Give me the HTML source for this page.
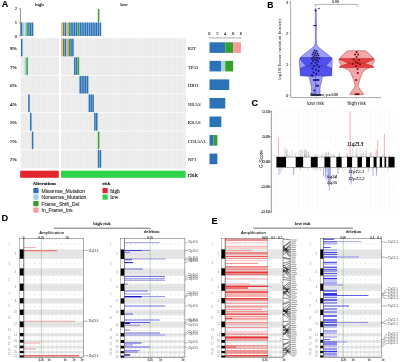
<!DOCTYPE html>
<html><head><meta charset="utf-8"><style>
html,body{margin:0;padding:0;background:#fff;width:400px;height:362px;overflow:hidden}
svg{display:block;filter:blur(0.35px)}
</style></head><body>
<svg width="400" height="362" viewBox="0 0 400 362">
<rect width="400" height="362" fill="#fff"/>
<text x="1.7" y="7.4" font-family="Liberation Sans, sans-serif" font-size="9" fill="#000" text-anchor="start" font-weight="bold" font-style="normal" stroke="#000" stroke-width="0.12">A</text>
<line x1="20.4" y1="8.7" x2="20.4" y2="36" stroke="#444" stroke-width="0.6"/>
<line x1="19" y1="8.7" x2="20.4" y2="8.7" stroke="#444" stroke-width="0.5"/>
<text x="17.2" y="10.2" font-family="Liberation Sans, sans-serif" font-size="4.3" fill="#333" text-anchor="end" font-weight="normal" font-style="normal" stroke="#333" stroke-width="0.12">2</text>
<line x1="19" y1="22.5" x2="20.4" y2="22.5" stroke="#444" stroke-width="0.5"/>
<text x="17.2" y="24" font-family="Liberation Sans, sans-serif" font-size="4.3" fill="#333" text-anchor="end" font-weight="normal" font-style="normal" stroke="#333" stroke-width="0.12">1</text>
<line x1="19" y1="36" x2="20.4" y2="36" stroke="#444" stroke-width="0.5"/>
<text x="17.2" y="37.5" font-family="Liberation Sans, sans-serif" font-size="4.3" fill="#333" text-anchor="end" font-weight="normal" font-style="normal" stroke="#333" stroke-width="0.12">0</text>
<text x="39.4" y="5.6" font-family="Liberation Serif, sans-serif" font-size="5" fill="#222" text-anchor="middle" font-weight="normal" font-style="normal" stroke="#222" stroke-width="0.12">high</text>
<text x="123.9" y="5.7" font-family="Liberation Serif, sans-serif" font-size="5" fill="#222" text-anchor="middle" font-weight="normal" font-style="normal" stroke="#222" stroke-width="0.12">low</text>
<rect x="20.8" y="38.3" width="38" height="129.9" fill="#e9e9e9"/>
<rect x="61" y="38.3" width="124.7" height="129.9" fill="#e9e9e9"/>
<rect x="22.39" y="38.3" width="0.44" height="129.9" fill="#f6f6f6"/>
<rect x="24.2" y="38.3" width="0.44" height="129.9" fill="#f6f6f6"/>
<rect x="26.01" y="38.3" width="0.44" height="129.9" fill="#f6f6f6"/>
<rect x="27.82" y="38.3" width="0.44" height="129.9" fill="#f6f6f6"/>
<rect x="29.63" y="38.3" width="0.44" height="129.9" fill="#f6f6f6"/>
<rect x="31.44" y="38.3" width="0.44" height="129.9" fill="#f6f6f6"/>
<rect x="33.25" y="38.3" width="0.44" height="129.9" fill="#f6f6f6"/>
<rect x="35.06" y="38.3" width="0.44" height="129.9" fill="#f6f6f6"/>
<rect x="36.87" y="38.3" width="0.44" height="129.9" fill="#f6f6f6"/>
<rect x="38.68" y="38.3" width="0.44" height="129.9" fill="#f6f6f6"/>
<rect x="40.48" y="38.3" width="0.44" height="129.9" fill="#f6f6f6"/>
<rect x="42.29" y="38.3" width="0.44" height="129.9" fill="#f6f6f6"/>
<rect x="44.1" y="38.3" width="0.44" height="129.9" fill="#f6f6f6"/>
<rect x="45.91" y="38.3" width="0.44" height="129.9" fill="#f6f6f6"/>
<rect x="47.72" y="38.3" width="0.44" height="129.9" fill="#f6f6f6"/>
<rect x="49.53" y="38.3" width="0.44" height="129.9" fill="#f6f6f6"/>
<rect x="51.34" y="38.3" width="0.44" height="129.9" fill="#f6f6f6"/>
<rect x="53.15" y="38.3" width="0.44" height="129.9" fill="#f6f6f6"/>
<rect x="54.96" y="38.3" width="0.44" height="129.9" fill="#f6f6f6"/>
<rect x="56.77" y="38.3" width="0.44" height="129.9" fill="#f6f6f6"/>
<rect x="62.61" y="38.3" width="0.44" height="129.9" fill="#f6f6f6"/>
<rect x="64.45" y="38.3" width="0.44" height="129.9" fill="#f6f6f6"/>
<rect x="66.28" y="38.3" width="0.44" height="129.9" fill="#f6f6f6"/>
<rect x="68.12" y="38.3" width="0.44" height="129.9" fill="#f6f6f6"/>
<rect x="69.95" y="38.3" width="0.44" height="129.9" fill="#f6f6f6"/>
<rect x="71.78" y="38.3" width="0.44" height="129.9" fill="#f6f6f6"/>
<rect x="73.62" y="38.3" width="0.44" height="129.9" fill="#f6f6f6"/>
<rect x="75.45" y="38.3" width="0.44" height="129.9" fill="#f6f6f6"/>
<rect x="77.28" y="38.3" width="0.44" height="129.9" fill="#f6f6f6"/>
<rect x="79.12" y="38.3" width="0.44" height="129.9" fill="#f6f6f6"/>
<rect x="80.95" y="38.3" width="0.44" height="129.9" fill="#f6f6f6"/>
<rect x="82.79" y="38.3" width="0.44" height="129.9" fill="#f6f6f6"/>
<rect x="84.62" y="38.3" width="0.44" height="129.9" fill="#f6f6f6"/>
<rect x="86.45" y="38.3" width="0.44" height="129.9" fill="#f6f6f6"/>
<rect x="88.29" y="38.3" width="0.44" height="129.9" fill="#f6f6f6"/>
<rect x="90.12" y="38.3" width="0.44" height="129.9" fill="#f6f6f6"/>
<rect x="91.95" y="38.3" width="0.44" height="129.9" fill="#f6f6f6"/>
<rect x="93.79" y="38.3" width="0.44" height="129.9" fill="#f6f6f6"/>
<rect x="95.62" y="38.3" width="0.44" height="129.9" fill="#f6f6f6"/>
<rect x="97.46" y="38.3" width="0.44" height="129.9" fill="#f6f6f6"/>
<rect x="99.29" y="38.3" width="0.44" height="129.9" fill="#f6f6f6"/>
<rect x="101.12" y="38.3" width="0.44" height="129.9" fill="#f6f6f6"/>
<rect x="102.96" y="38.3" width="0.44" height="129.9" fill="#f6f6f6"/>
<rect x="104.79" y="38.3" width="0.44" height="129.9" fill="#f6f6f6"/>
<rect x="106.63" y="38.3" width="0.44" height="129.9" fill="#f6f6f6"/>
<rect x="108.46" y="38.3" width="0.44" height="129.9" fill="#f6f6f6"/>
<rect x="110.29" y="38.3" width="0.44" height="129.9" fill="#f6f6f6"/>
<rect x="112.13" y="38.3" width="0.44" height="129.9" fill="#f6f6f6"/>
<rect x="113.96" y="38.3" width="0.44" height="129.9" fill="#f6f6f6"/>
<rect x="115.79" y="38.3" width="0.44" height="129.9" fill="#f6f6f6"/>
<rect x="117.63" y="38.3" width="0.44" height="129.9" fill="#f6f6f6"/>
<rect x="119.46" y="38.3" width="0.44" height="129.9" fill="#f6f6f6"/>
<rect x="121.3" y="38.3" width="0.44" height="129.9" fill="#f6f6f6"/>
<rect x="123.13" y="38.3" width="0.44" height="129.9" fill="#f6f6f6"/>
<rect x="124.96" y="38.3" width="0.44" height="129.9" fill="#f6f6f6"/>
<rect x="126.8" y="38.3" width="0.44" height="129.9" fill="#f6f6f6"/>
<rect x="128.63" y="38.3" width="0.44" height="129.9" fill="#f6f6f6"/>
<rect x="130.47" y="38.3" width="0.44" height="129.9" fill="#f6f6f6"/>
<rect x="132.3" y="38.3" width="0.44" height="129.9" fill="#f6f6f6"/>
<rect x="134.13" y="38.3" width="0.44" height="129.9" fill="#f6f6f6"/>
<rect x="135.97" y="38.3" width="0.44" height="129.9" fill="#f6f6f6"/>
<rect x="137.8" y="38.3" width="0.44" height="129.9" fill="#f6f6f6"/>
<rect x="139.63" y="38.3" width="0.44" height="129.9" fill="#f6f6f6"/>
<rect x="141.47" y="38.3" width="0.44" height="129.9" fill="#f6f6f6"/>
<rect x="143.3" y="38.3" width="0.44" height="129.9" fill="#f6f6f6"/>
<rect x="145.14" y="38.3" width="0.44" height="129.9" fill="#f6f6f6"/>
<rect x="146.97" y="38.3" width="0.44" height="129.9" fill="#f6f6f6"/>
<rect x="148.8" y="38.3" width="0.44" height="129.9" fill="#f6f6f6"/>
<rect x="150.64" y="38.3" width="0.44" height="129.9" fill="#f6f6f6"/>
<rect x="152.47" y="38.3" width="0.44" height="129.9" fill="#f6f6f6"/>
<rect x="154.3" y="38.3" width="0.44" height="129.9" fill="#f6f6f6"/>
<rect x="156.14" y="38.3" width="0.44" height="129.9" fill="#f6f6f6"/>
<rect x="157.97" y="38.3" width="0.44" height="129.9" fill="#f6f6f6"/>
<rect x="159.81" y="38.3" width="0.44" height="129.9" fill="#f6f6f6"/>
<rect x="161.64" y="38.3" width="0.44" height="129.9" fill="#f6f6f6"/>
<rect x="163.47" y="38.3" width="0.44" height="129.9" fill="#f6f6f6"/>
<rect x="165.31" y="38.3" width="0.44" height="129.9" fill="#f6f6f6"/>
<rect x="167.14" y="38.3" width="0.44" height="129.9" fill="#f6f6f6"/>
<rect x="168.98" y="38.3" width="0.44" height="129.9" fill="#f6f6f6"/>
<rect x="170.81" y="38.3" width="0.44" height="129.9" fill="#f6f6f6"/>
<rect x="172.64" y="38.3" width="0.44" height="129.9" fill="#f6f6f6"/>
<rect x="174.48" y="38.3" width="0.44" height="129.9" fill="#f6f6f6"/>
<rect x="176.31" y="38.3" width="0.44" height="129.9" fill="#f6f6f6"/>
<rect x="178.14" y="38.3" width="0.44" height="129.9" fill="#f6f6f6"/>
<rect x="179.98" y="38.3" width="0.44" height="129.9" fill="#f6f6f6"/>
<rect x="181.81" y="38.3" width="0.44" height="129.9" fill="#f6f6f6"/>
<rect x="183.65" y="38.3" width="0.44" height="129.9" fill="#f6f6f6"/>
<rect x="20.8" y="56.36" width="164.9" height="1" fill="#fafafa"/>
<rect x="20.8" y="74.91" width="164.9" height="1" fill="#fafafa"/>
<rect x="20.8" y="93.47" width="164.9" height="1" fill="#fafafa"/>
<rect x="20.8" y="112.03" width="164.9" height="1" fill="#fafafa"/>
<rect x="20.8" y="130.59" width="164.9" height="1" fill="#fafafa"/>
<rect x="20.8" y="149.14" width="164.9" height="1" fill="#fafafa"/>
<rect x="20.95" y="38.8" width="1.51" height="17.56" fill="#2b72b8"/>
<rect x="24.57" y="57.36" width="1.51" height="17.56" fill="#a6cee3"/>
<rect x="26.38" y="57.36" width="1.51" height="17.56" fill="#33a02c"/>
<rect x="28.19" y="94.47" width="1.51" height="17.56" fill="#2b72b8"/>
<rect x="30" y="113.03" width="1.51" height="17.56" fill="#2b72b8"/>
<rect x="31.81" y="131.59" width="1.51" height="17.56" fill="#2b72b8"/>
<rect x="61.15" y="38.8" width="1.53" height="17.56" fill="#fb9a99"/>
<rect x="62.98" y="38.8" width="1.53" height="17.56" fill="#33a02c"/>
<rect x="64.82" y="38.8" width="1.53" height="17.56" fill="#2b72b8"/>
<rect x="66.65" y="38.8" width="1.53" height="17.56" fill="#fb9a99"/>
<rect x="68.49" y="38.8" width="1.53" height="17.56" fill="#33a02c"/>
<rect x="70.32" y="38.8" width="1.53" height="17.56" fill="#2b72b8"/>
<rect x="72.15" y="38.8" width="1.53" height="17.56" fill="#2b72b8"/>
<rect x="73.99" y="57.36" width="1.53" height="17.56" fill="#2b72b8"/>
<rect x="75.82" y="57.36" width="1.53" height="17.56" fill="#2b72b8"/>
<rect x="77.65" y="57.36" width="1.53" height="17.56" fill="#33a02c"/>
<rect x="79.49" y="75.91" width="1.53" height="17.56" fill="#2b72b8"/>
<rect x="81.32" y="75.91" width="1.53" height="17.56" fill="#2b72b8"/>
<rect x="83.16" y="75.91" width="1.53" height="17.56" fill="#2b72b8"/>
<rect x="84.99" y="75.91" width="1.53" height="17.56" fill="#2b72b8"/>
<rect x="86.82" y="75.91" width="1.53" height="17.56" fill="#2b72b8"/>
<rect x="88.66" y="94.47" width="1.53" height="17.56" fill="#2b72b8"/>
<rect x="90.49" y="94.47" width="1.53" height="17.56" fill="#2b72b8"/>
<rect x="92.33" y="94.47" width="1.53" height="17.56" fill="#2b72b8"/>
<rect x="94.16" y="113.03" width="1.53" height="17.56" fill="#2b72b8"/>
<rect x="95.99" y="113.03" width="1.53" height="17.56" fill="#2b72b8"/>
<rect x="97.83" y="150.14" width="1.53" height="17.56" fill="#2b72b8"/>
<rect x="97.83" y="131.59" width="1.53" height="17.56" fill="#33a02c"/>
<rect x="99.66" y="150.14" width="1.53" height="17.56" fill="#2b72b8"/>
<rect x="20.95" y="22.5" width="1.51" height="13.5" fill="#2b72b8"/>
<rect x="24.57" y="22.5" width="1.51" height="13.5" fill="#a6cee3"/>
<rect x="26.38" y="22.5" width="1.51" height="13.5" fill="#33a02c"/>
<rect x="28.19" y="22.5" width="1.51" height="13.5" fill="#2b72b8"/>
<rect x="30" y="22.5" width="1.51" height="13.5" fill="#2b72b8"/>
<rect x="31.81" y="22.5" width="1.51" height="13.5" fill="#2b72b8"/>
<rect x="61.15" y="22.5" width="1.53" height="13.5" fill="#fb9a99"/>
<rect x="62.98" y="22.5" width="1.53" height="13.5" fill="#33a02c"/>
<rect x="64.82" y="22.5" width="1.53" height="13.5" fill="#2b72b8"/>
<rect x="66.65" y="22.5" width="1.53" height="13.5" fill="#fb9a99"/>
<rect x="68.49" y="22.5" width="1.53" height="13.5" fill="#33a02c"/>
<rect x="70.32" y="22.5" width="1.53" height="13.5" fill="#2b72b8"/>
<rect x="72.15" y="22.5" width="1.53" height="13.5" fill="#2b72b8"/>
<rect x="73.99" y="22.5" width="1.53" height="13.5" fill="#2b72b8"/>
<rect x="75.82" y="22.5" width="1.53" height="13.5" fill="#2b72b8"/>
<rect x="77.65" y="22.5" width="1.53" height="13.5" fill="#33a02c"/>
<rect x="79.49" y="22.5" width="1.53" height="13.5" fill="#2b72b8"/>
<rect x="81.32" y="22.5" width="1.53" height="13.5" fill="#2b72b8"/>
<rect x="83.16" y="22.5" width="1.53" height="13.5" fill="#2b72b8"/>
<rect x="84.99" y="22.5" width="1.53" height="13.5" fill="#2b72b8"/>
<rect x="86.82" y="22.5" width="1.53" height="13.5" fill="#2b72b8"/>
<rect x="88.66" y="22.5" width="1.53" height="13.5" fill="#2b72b8"/>
<rect x="90.49" y="22.5" width="1.53" height="13.5" fill="#2b72b8"/>
<rect x="92.33" y="22.5" width="1.53" height="13.5" fill="#2b72b8"/>
<rect x="94.16" y="22.5" width="1.53" height="13.5" fill="#2b72b8"/>
<rect x="95.99" y="22.5" width="1.53" height="13.5" fill="#2b72b8"/>
<rect x="97.83" y="22.5" width="1.53" height="13.5" fill="#2b72b8"/>
<rect x="97.83" y="9" width="1.53" height="13.5" fill="#33a02c"/>
<rect x="99.66" y="22.5" width="1.53" height="13.5" fill="#2b72b8"/>
<rect x="22.76" y="22.5" width="1.51" height="13.5" fill="#a6cee3"/>
<text x="16.7" y="49.98" font-family="Liberation Serif, sans-serif" font-size="5" fill="#111" text-anchor="end" font-weight="normal" font-style="normal" stroke="#111" stroke-width="0.12">9%</text>
<text x="187.8" y="49.98" font-family="Liberation Serif, sans-serif" font-size="4.8" fill="#111" text-anchor="start" font-weight="normal" font-style="normal" stroke="#111" stroke-width="0.06">KIT</text>
<text x="16.7" y="68.54" font-family="Liberation Serif, sans-serif" font-size="5" fill="#111" text-anchor="end" font-weight="normal" font-style="normal" stroke="#111" stroke-width="0.12">7%</text>
<text x="187.8" y="68.54" font-family="Liberation Serif, sans-serif" font-size="4.8" fill="#111" text-anchor="start" font-weight="normal" font-style="normal" stroke="#111" stroke-width="0.06">TP53</text>
<text x="16.7" y="87.09" font-family="Liberation Serif, sans-serif" font-size="5" fill="#111" text-anchor="end" font-weight="normal" font-style="normal" stroke="#111" stroke-width="0.12">6%</text>
<text x="187.8" y="87.09" font-family="Liberation Serif, sans-serif" font-size="4.8" fill="#111" text-anchor="start" font-weight="normal" font-style="normal" stroke="#111" stroke-width="0.06">IDH1</text>
<text x="16.7" y="105.65" font-family="Liberation Serif, sans-serif" font-size="5" fill="#111" text-anchor="end" font-weight="normal" font-style="normal" stroke="#111" stroke-width="0.12">4%</text>
<text x="187.8" y="105.65" font-family="Liberation Serif, sans-serif" font-size="4.8" fill="#111" text-anchor="start" font-weight="normal" font-style="normal" stroke="#111" stroke-width="0.06">NRAS</text>
<text x="16.7" y="124.21" font-family="Liberation Serif, sans-serif" font-size="5" fill="#111" text-anchor="end" font-weight="normal" font-style="normal" stroke="#111" stroke-width="0.12">3%</text>
<text x="187.8" y="124.21" font-family="Liberation Serif, sans-serif" font-size="4.8" fill="#111" text-anchor="start" font-weight="normal" font-style="normal" stroke="#111" stroke-width="0.06">KRAS</text>
<text x="16.7" y="142.76" font-family="Liberation Serif, sans-serif" font-size="5" fill="#111" text-anchor="end" font-weight="normal" font-style="normal" stroke="#111" stroke-width="0.12">2%</text>
<text x="187.8" y="142.76" font-family="Liberation Serif, sans-serif" font-size="4.8" fill="#111" text-anchor="start" font-weight="normal" font-style="normal" stroke="#111" stroke-width="0.06">COL5A1</text>
<text x="16.7" y="161.32" font-family="Liberation Serif, sans-serif" font-size="5" fill="#111" text-anchor="end" font-weight="normal" font-style="normal" stroke="#111" stroke-width="0.12">2%</text>
<text x="187.8" y="161.32" font-family="Liberation Serif, sans-serif" font-size="4.8" fill="#111" text-anchor="start" font-weight="normal" font-style="normal" stroke="#111" stroke-width="0.06">NF1</text>
<line x1="209.5" y1="38" x2="241.02" y2="38" stroke="#444" stroke-width="0.4"/>
<line x1="209.5" y1="38" x2="209.5" y2="36.8" stroke="#444" stroke-width="0.3"/>
<line x1="213.44" y1="38" x2="213.44" y2="37.4" stroke="#444" stroke-width="0.3"/>
<line x1="217.38" y1="38" x2="217.38" y2="36.8" stroke="#444" stroke-width="0.3"/>
<line x1="221.32" y1="38" x2="221.32" y2="37.4" stroke="#444" stroke-width="0.3"/>
<line x1="225.26" y1="38" x2="225.26" y2="36.8" stroke="#444" stroke-width="0.3"/>
<line x1="229.2" y1="38" x2="229.2" y2="37.4" stroke="#444" stroke-width="0.3"/>
<line x1="233.14" y1="38" x2="233.14" y2="36.8" stroke="#444" stroke-width="0.3"/>
<line x1="237.08" y1="38" x2="237.08" y2="37.4" stroke="#444" stroke-width="0.3"/>
<line x1="241.02" y1="38" x2="241.02" y2="36.8" stroke="#444" stroke-width="0.3"/>
<text x="209.5" y="34.6" font-family="Liberation Serif, sans-serif" font-size="4.6" fill="#333" text-anchor="middle" font-weight="normal" font-style="normal" stroke="#333" stroke-width="0.12">0</text>
<text x="217.38" y="34.6" font-family="Liberation Serif, sans-serif" font-size="4.6" fill="#333" text-anchor="middle" font-weight="normal" font-style="normal" stroke="#333" stroke-width="0.12">2</text>
<text x="225.26" y="34.6" font-family="Liberation Serif, sans-serif" font-size="4.6" fill="#333" text-anchor="middle" font-weight="normal" font-style="normal" stroke="#333" stroke-width="0.12">4</text>
<text x="233.14" y="34.6" font-family="Liberation Serif, sans-serif" font-size="4.6" fill="#333" text-anchor="middle" font-weight="normal" font-style="normal" stroke="#333" stroke-width="0.12">6</text>
<text x="241.02" y="34.6" font-family="Liberation Serif, sans-serif" font-size="4.6" fill="#333" text-anchor="middle" font-weight="normal" font-style="normal" stroke="#333" stroke-width="0.12">8</text>
<rect x="209.5" y="42.28" width="15.76" height="10.6" fill="#2b72b8"/>
<rect x="225.26" y="42.28" width="7.88" height="10.6" fill="#33a02c"/>
<rect x="233.14" y="42.28" width="7.88" height="10.6" fill="#fb9a99"/>
<rect x="209.5" y="60.84" width="11.82" height="10.6" fill="#2b72b8"/>
<rect x="221.32" y="60.84" width="3.94" height="10.6" fill="#a6cee3"/>
<rect x="225.26" y="60.84" width="7.88" height="10.6" fill="#33a02c"/>
<rect x="209.5" y="79.39" width="19.7" height="10.6" fill="#2b72b8"/>
<rect x="209.5" y="97.95" width="15.76" height="10.6" fill="#2b72b8"/>
<rect x="209.5" y="116.51" width="11.82" height="10.6" fill="#2b72b8"/>
<rect x="209.5" y="135.06" width="3.94" height="10.6" fill="#2b72b8"/>
<rect x="213.44" y="135.06" width="3.94" height="10.6" fill="#33a02c"/>
<rect x="209.5" y="153.62" width="7.88" height="10.6" fill="#2b72b8"/>
<rect x="20.2" y="170.7" width="38.6" height="7.1" fill="#e3262d"/>
<rect x="61" y="170.7" width="124.7" height="7.1" fill="#2fd44a"/>
<text x="187.6" y="176.9" font-family="Liberation Serif, sans-serif" font-size="7" fill="#111" text-anchor="start" font-weight="normal" font-style="normal" stroke="#111" stroke-width="0.12">risk</text>
<text x="32.8" y="185" font-family="Liberation Serif, sans-serif" font-size="4.9" fill="#111" text-anchor="start" font-weight="bold" font-style="normal" stroke="#111" stroke-width="0.12">Alterations</text>
<rect x="33.3" y="188" width="5.2" height="5.2" fill="#2b72b8"/>
<text x="41.5" y="192.9" font-family="Liberation Sans, sans-serif" font-size="5.05" fill="#333" text-anchor="start" font-weight="normal" font-style="normal" stroke="#333" stroke-width="0.12">Missense_Mutation</text>
<rect x="33.3" y="194.5" width="5.2" height="5.2" fill="#a6cee3"/>
<text x="41.5" y="199.4" font-family="Liberation Sans, sans-serif" font-size="5.05" fill="#333" text-anchor="start" font-weight="normal" font-style="normal" stroke="#333" stroke-width="0.12">Nonsense_Mutation</text>
<rect x="33.3" y="201" width="5.2" height="5.2" fill="#33a02c"/>
<text x="41.5" y="205.9" font-family="Liberation Sans, sans-serif" font-size="5.05" fill="#333" text-anchor="start" font-weight="normal" font-style="normal" stroke="#333" stroke-width="0.12">Frame_Shift_Del</text>
<rect x="33.3" y="207.5" width="5.2" height="5.2" fill="#fb9a99"/>
<text x="41.5" y="212.4" font-family="Liberation Sans, sans-serif" font-size="5.05" fill="#333" text-anchor="start" font-weight="normal" font-style="normal" stroke="#333" stroke-width="0.12">In_Frame_Ins</text>
<text x="102.3" y="185" font-family="Liberation Serif, sans-serif" font-size="4.9" fill="#111" text-anchor="start" font-weight="bold" font-style="normal" stroke="#111" stroke-width="0.12">risk</text>
<rect x="102.5" y="188" width="5.2" height="5.2" fill="#e3262d"/>
<text x="110.2" y="192.6" font-family="Liberation Serif, sans-serif" font-size="5.4" fill="#222" text-anchor="start" font-weight="normal" font-style="normal" stroke="#222" stroke-width="0.12">high</text>
<rect x="102.5" y="194.5" width="5.2" height="5.2" fill="#2fd44a"/>
<text x="110.2" y="199.1" font-family="Liberation Serif, sans-serif" font-size="5.4" fill="#222" text-anchor="start" font-weight="normal" font-style="normal" stroke="#222" stroke-width="0.12">low</text>
<text x="267.2" y="7.7" font-family="Liberation Sans, sans-serif" font-size="8.6" fill="#000" text-anchor="start" font-weight="bold" font-style="normal" stroke="#000" stroke-width="0.12">B</text>
<line x1="290.6" y1="1.5" x2="290.6" y2="97.6" stroke="#555" stroke-width="0.5"/>
<line x1="290.6" y1="97.6" x2="381" y2="97.6" stroke="#555" stroke-width="0.5"/>
<line x1="289.3" y1="95.2" x2="290.6" y2="95.2" stroke="#555" stroke-width="0.45"/>
<text x="288.3" y="96.6" font-family="Liberation Sans, sans-serif" font-size="4" fill="#444" text-anchor="end" font-weight="normal" font-style="normal" stroke="#444" stroke-width="0.12">0</text>
<line x1="289.3" y1="64.2" x2="290.6" y2="64.2" stroke="#555" stroke-width="0.45"/>
<text x="288.3" y="65.6" font-family="Liberation Sans, sans-serif" font-size="4" fill="#444" text-anchor="end" font-weight="normal" font-style="normal" stroke="#444" stroke-width="0.12">1</text>
<line x1="289.3" y1="33.2" x2="290.6" y2="33.2" stroke="#555" stroke-width="0.45"/>
<text x="288.3" y="34.6" font-family="Liberation Sans, sans-serif" font-size="4" fill="#444" text-anchor="end" font-weight="normal" font-style="normal" stroke="#444" stroke-width="0.12">2</text>
<line x1="289.3" y1="2.2" x2="290.6" y2="2.2" stroke="#555" stroke-width="0.45"/>
<text x="288.3" y="3.6" font-family="Liberation Sans, sans-serif" font-size="4" fill="#444" text-anchor="end" font-weight="normal" font-style="normal" stroke="#444" stroke-width="0.12">3</text>
<line x1="315.7" y1="97.6" x2="315.7" y2="98.9" stroke="#555" stroke-width="0.45"/>
<line x1="356.6" y1="97.6" x2="356.6" y2="98.9" stroke="#555" stroke-width="0.45"/>
<text x="315.6" y="104.6" font-family="Liberation Sans, sans-serif" font-size="5" fill="#333" text-anchor="middle" font-weight="normal" font-style="normal" stroke="#333" stroke-width="0.04">low risk</text>
<text x="356.8" y="104.6" font-family="Liberation Sans, sans-serif" font-size="5" fill="#333" text-anchor="middle" font-weight="normal" font-style="normal" stroke="#333" stroke-width="0.04">high risk</text>
<text x="281.0" y="49.5" font-family="Liberation Serif, serif" font-size="4.9" fill="#222" text-anchor="middle" transform="rotate(-90 281.0 49.5)">log10(Tumor mutation burden)</text>
<polyline points="315.4,6.9 315.4,4.4 357.2,4.4 357.2,6.9" fill="none" stroke="#555" stroke-width="0.45"/>
<text x="335.6" y="3.4" font-family="Liberation Sans, sans-serif" font-size="3.6" fill="#444" text-anchor="middle" font-weight="normal" font-style="normal" stroke="#444" stroke-width="0.12">0.88</text>
<polygon points="316.15,8.5 316.3,20 316.5,26 316.25,32 316.3,42 316.6,44 317.4,46 320,48.5 323.3,51 327.3,54 330.8,57 332.1,60 332.3,64 331.8,68 331,72 329.3,75.5 322.4,76.5 321.8,80 320.8,84 320.1,87.5 320,94 319.8,95.6 311.8,95.6 311.6,94 311.5,87.5 310.8,84 309.8,80 309.2,76.5 302.3,75.5 300.6,72 299.8,68 299.3,64 299.5,60 300.8,57 304.3,54 308.3,51 311.6,48.5 314.2,46 315,44 315.3,42 315.35,32 315.1,26 315.3,20 315.45,8.5" fill="#9c9cfa" stroke="#3a3a9a" stroke-width="0.45"/>
<line x1="315.6" y1="75.8" x2="315.6" y2="95.4" stroke="#3a3a9a" stroke-width="0.5"/>
<polygon points="300.2,57.6 331.8,57.6 331.8,59.5 325.8,66 331.8,68.2 331.8,75.8 300.2,75.8 300.2,68.2 306.2,66 300.2,59.5" fill="#5050f0" stroke="#2a2a90" stroke-width="0.45"/>
<line x1="306.2" y1="66" x2="325.8" y2="66" stroke="#2a2a90" stroke-width="0.5"/>
<polygon points="356.6,50.7 365.4,50.8 368.4,53 371.6,56 374.4,60 374,62 372.4,65 369.8,67.6 367.1,69 364.4,70.2 362.2,73.3 360.1,78.7 359.1,82 358.1,85.7 358.5,87 360.6,90 362.8,93 363.6,94.6 356.6,94.8 356.6,94.8 349.6,94.6 350.4,93 352.6,90 354.7,87 355.1,85.7 354.1,82 353.1,78.7 351,73.3 348.8,70.2 346.1,69 343.4,67.6 340.8,65 339.2,62 338.8,60 341.6,56 344.8,53 347.8,50.8 356.6,50.7" fill="#f6a6a6" stroke="#9a3030" stroke-width="0.45"/>
<polygon points="339.6,58.6 373.6,58.6 373.6,59.6 364.6,63.2 373.6,66.6 373.6,67.6 339.6,67.6 339.6,66.6 348.6,63.2 339.6,59.6" fill="#ec3c3c" stroke="#8a2020" stroke-width="0.45"/>
<line x1="348.6" y1="63.2" x2="364.6" y2="63.2" stroke="#8a2020" stroke-width="0.5"/>
<rect x="313.65" y="49.65" width="1.7" height="1.7" fill="#14145a"/>
<rect x="315.65" y="50.15" width="1.7" height="1.7" fill="#14145a"/>
<rect x="312.65" y="51.65" width="1.7" height="1.7" fill="#14145a"/>
<rect x="314.65" y="52.15" width="1.7" height="1.7" fill="#14145a"/>
<rect x="316.65" y="52.65" width="1.7" height="1.7" fill="#14145a"/>
<rect x="311.65" y="53.65" width="1.7" height="1.7" fill="#14145a"/>
<rect x="313.65" y="54.15" width="1.7" height="1.7" fill="#14145a"/>
<rect x="315.65" y="54.65" width="1.7" height="1.7" fill="#14145a"/>
<rect x="317.65" y="54.65" width="1.7" height="1.7" fill="#14145a"/>
<rect x="312.65" y="56.15" width="1.7" height="1.7" fill="#14145a"/>
<rect x="314.65" y="56.65" width="1.7" height="1.7" fill="#14145a"/>
<rect x="316.65" y="57.15" width="1.7" height="1.7" fill="#14145a"/>
<rect x="311.15" y="57.65" width="1.7" height="1.7" fill="#14145a"/>
<rect x="318.65" y="57.65" width="1.7" height="1.7" fill="#14145a"/>
<rect x="313.65" y="58.65" width="1.7" height="1.7" fill="#14145a"/>
<rect x="315.65" y="59.15" width="1.7" height="1.7" fill="#14145a"/>
<rect x="312.15" y="60.15" width="1.7" height="1.7" fill="#14145a"/>
<rect x="317.15" y="60.65" width="1.7" height="1.7" fill="#14145a"/>
<rect x="314.65" y="61.65" width="1.7" height="1.7" fill="#14145a"/>
<rect x="310.65" y="62.65" width="1.7" height="1.7" fill="#14145a"/>
<rect x="316.15" y="63.65" width="1.7" height="1.7" fill="#14145a"/>
<rect x="313.15" y="65.15" width="1.7" height="1.7" fill="#14145a"/>
<rect x="318.15" y="66.15" width="1.7" height="1.7" fill="#14145a"/>
<rect x="311.65" y="67.65" width="1.7" height="1.7" fill="#14145a"/>
<rect x="315.15" y="68.65" width="1.7" height="1.7" fill="#14145a"/>
<rect x="317.65" y="70.15" width="1.7" height="1.7" fill="#14145a"/>
<rect x="312.65" y="71.65" width="1.7" height="1.7" fill="#14145a"/>
<rect x="315.65" y="73.15" width="1.7" height="1.7" fill="#14145a"/>
<rect x="310.65" y="74.65" width="1.7" height="1.7" fill="#14145a"/>
<rect x="312.95" y="79.15" width="1.7" height="1.7" fill="#14145a"/>
<rect x="314.55" y="79.15" width="1.7" height="1.7" fill="#14145a"/>
<rect x="316.15" y="79.15" width="1.7" height="1.7" fill="#14145a"/>
<rect x="317.55" y="79.15" width="1.7" height="1.7" fill="#14145a"/>
<rect x="315.75" y="84.85" width="1.7" height="1.7" fill="#14145a"/>
<rect x="317.35" y="84.85" width="1.7" height="1.7" fill="#14145a"/>
<rect x="311.65" y="75.05" width="1.7" height="1.7" fill="#14145a"/>
<rect x="313.55" y="89.65" width="1.7" height="1.7" fill="#14145a"/>
<rect x="310.95" y="94.05" width="1.7" height="1.7" fill="#14145a"/>
<rect x="312.35" y="94.05" width="1.7" height="1.7" fill="#14145a"/>
<rect x="313.75" y="94.05" width="1.7" height="1.7" fill="#14145a"/>
<rect x="315.15" y="94.05" width="1.7" height="1.7" fill="#14145a"/>
<rect x="316.55" y="94.05" width="1.7" height="1.7" fill="#14145a"/>
<rect x="317.95" y="94.05" width="1.7" height="1.7" fill="#14145a"/>
<rect x="319.35" y="94.05" width="1.7" height="1.7" fill="#14145a"/>
<rect x="314.7" y="9.6" width="1.7" height="1.7" fill="#14145a"/>
<rect x="318.3" y="7.9" width="1.3" height="1.3" fill="#14145a"/>
<rect x="313.4" y="25" width="1.6" height="1.1" fill="#14145a"/>
<rect x="315.2" y="24.8" width="1.4" height="1.1" fill="#14145a"/>
<rect x="355.75" y="51.15" width="1.7" height="1.7" fill="#5a0c0c"/>
<rect x="354.25" y="53.65" width="1.7" height="1.7" fill="#5a0c0c"/>
<rect x="357.25" y="53.65" width="1.7" height="1.7" fill="#5a0c0c"/>
<rect x="355.75" y="56.15" width="1.7" height="1.7" fill="#5a0c0c"/>
<rect x="352.75" y="58.65" width="1.7" height="1.7" fill="#5a0c0c"/>
<rect x="358.25" y="59.15" width="1.7" height="1.7" fill="#5a0c0c"/>
<rect x="354.75" y="60.65" width="1.7" height="1.7" fill="#5a0c0c"/>
<rect x="356.75" y="62.15" width="1.7" height="1.7" fill="#5a0c0c"/>
<rect x="351.75" y="63.15" width="1.7" height="1.7" fill="#5a0c0c"/>
<rect x="359.25" y="63.65" width="1.7" height="1.7" fill="#5a0c0c"/>
<rect x="355.25" y="65.15" width="1.7" height="1.7" fill="#5a0c0c"/>
<rect x="356.75" y="68.15" width="1.7" height="1.7" fill="#5a0c0c"/>
<rect x="356.95" y="72.15" width="1.7" height="1.7" fill="#5a0c0c"/>
<rect x="355.35" y="79.15" width="1.7" height="1.7" fill="#5a0c0c"/>
<rect x="354.75" y="93.35" width="1.7" height="1.7" fill="#5a0c0c"/>
<rect x="356.35" y="93.35" width="1.7" height="1.7" fill="#5a0c0c"/>
<rect x="357.75" y="93.35" width="1.7" height="1.7" fill="#5a0c0c"/>
<text x="310" y="95.7" font-family="Liberation Sans, sans-serif" font-size="3.4" fill="#333" text-anchor="start" font-weight="normal" font-style="normal" stroke="#333" stroke-width="0.12">Wilcoxon, p = 0.88</text>
<text x="251.6" y="106.1" font-family="Liberation Sans, sans-serif" font-size="9" fill="#000" text-anchor="start" font-weight="bold" font-style="normal" stroke="#000" stroke-width="0.12">C</text>
<line x1="276.5" y1="110.5" x2="276.5" y2="213" stroke="#ececec" stroke-width="0.35" stroke-dasharray="0.8,0.8"/>
<line x1="281" y1="110.5" x2="281" y2="213" stroke="#ececec" stroke-width="0.35" stroke-dasharray="0.8,0.8"/>
<line x1="285.5" y1="110.5" x2="285.5" y2="213" stroke="#ececec" stroke-width="0.35" stroke-dasharray="0.8,0.8"/>
<line x1="290" y1="110.5" x2="290" y2="213" stroke="#ececec" stroke-width="0.35" stroke-dasharray="0.8,0.8"/>
<line x1="294.5" y1="110.5" x2="294.5" y2="213" stroke="#ececec" stroke-width="0.35" stroke-dasharray="0.8,0.8"/>
<line x1="299" y1="110.5" x2="299" y2="213" stroke="#ececec" stroke-width="0.35" stroke-dasharray="0.8,0.8"/>
<line x1="303.5" y1="110.5" x2="303.5" y2="213" stroke="#ececec" stroke-width="0.35" stroke-dasharray="0.8,0.8"/>
<line x1="308" y1="110.5" x2="308" y2="213" stroke="#ececec" stroke-width="0.35" stroke-dasharray="0.8,0.8"/>
<line x1="312.5" y1="110.5" x2="312.5" y2="213" stroke="#ececec" stroke-width="0.35" stroke-dasharray="0.8,0.8"/>
<line x1="317" y1="110.5" x2="317" y2="213" stroke="#ececec" stroke-width="0.35" stroke-dasharray="0.8,0.8"/>
<line x1="321.5" y1="110.5" x2="321.5" y2="213" stroke="#ececec" stroke-width="0.35" stroke-dasharray="0.8,0.8"/>
<line x1="326" y1="110.5" x2="326" y2="213" stroke="#ececec" stroke-width="0.35" stroke-dasharray="0.8,0.8"/>
<line x1="330.5" y1="110.5" x2="330.5" y2="213" stroke="#ececec" stroke-width="0.35" stroke-dasharray="0.8,0.8"/>
<line x1="335" y1="110.5" x2="335" y2="213" stroke="#ececec" stroke-width="0.35" stroke-dasharray="0.8,0.8"/>
<line x1="339.5" y1="110.5" x2="339.5" y2="213" stroke="#ececec" stroke-width="0.35" stroke-dasharray="0.8,0.8"/>
<line x1="344" y1="110.5" x2="344" y2="213" stroke="#ececec" stroke-width="0.35" stroke-dasharray="0.8,0.8"/>
<line x1="348.5" y1="110.5" x2="348.5" y2="213" stroke="#ececec" stroke-width="0.35" stroke-dasharray="0.8,0.8"/>
<line x1="353" y1="110.5" x2="353" y2="213" stroke="#ececec" stroke-width="0.35" stroke-dasharray="0.8,0.8"/>
<line x1="357.5" y1="110.5" x2="357.5" y2="213" stroke="#ececec" stroke-width="0.35" stroke-dasharray="0.8,0.8"/>
<line x1="362" y1="110.5" x2="362" y2="213" stroke="#ececec" stroke-width="0.35" stroke-dasharray="0.8,0.8"/>
<line x1="366.5" y1="110.5" x2="366.5" y2="213" stroke="#ececec" stroke-width="0.35" stroke-dasharray="0.8,0.8"/>
<line x1="371" y1="110.5" x2="371" y2="213" stroke="#ececec" stroke-width="0.35" stroke-dasharray="0.8,0.8"/>
<line x1="375.5" y1="110.5" x2="375.5" y2="213" stroke="#ececec" stroke-width="0.35" stroke-dasharray="0.8,0.8"/>
<line x1="380" y1="110.5" x2="380" y2="213" stroke="#ececec" stroke-width="0.35" stroke-dasharray="0.8,0.8"/>
<line x1="384.5" y1="110.5" x2="384.5" y2="213" stroke="#ececec" stroke-width="0.35" stroke-dasharray="0.8,0.8"/>
<line x1="389" y1="110.5" x2="389" y2="213" stroke="#ececec" stroke-width="0.35" stroke-dasharray="0.8,0.8"/>
<line x1="393.5" y1="110.5" x2="393.5" y2="213" stroke="#ececec" stroke-width="0.35" stroke-dasharray="0.8,0.8"/>
<line x1="271.3" y1="111.7" x2="395" y2="111.7" stroke="#ececec" stroke-width="0.35" stroke-dasharray="0.8,0.8"/>
<line x1="271.3" y1="136.7" x2="395" y2="136.7" stroke="#ececec" stroke-width="0.35" stroke-dasharray="0.8,0.8"/>
<line x1="271.3" y1="186.7" x2="395" y2="186.7" stroke="#ececec" stroke-width="0.35" stroke-dasharray="0.8,0.8"/>
<line x1="271.3" y1="211.7" x2="395" y2="211.7" stroke="#ececec" stroke-width="0.35" stroke-dasharray="0.8,0.8"/>
<line x1="271.3" y1="110.5" x2="271.3" y2="213.2" stroke="#444" stroke-width="0.55"/>
<line x1="270.1" y1="111.7" x2="271.3" y2="111.7" stroke="#333" stroke-width="0.4"/>
<text x="269.9" y="113" font-family="Liberation Sans, sans-serif" font-size="3.8" fill="#222" text-anchor="end" font-weight="normal" font-style="normal" stroke="#222" stroke-width="0.12">0.10</text>
<line x1="270.1" y1="136.7" x2="271.3" y2="136.7" stroke="#333" stroke-width="0.4"/>
<text x="269.9" y="138" font-family="Liberation Sans, sans-serif" font-size="3.8" fill="#222" text-anchor="end" font-weight="normal" font-style="normal" stroke="#222" stroke-width="0.12">0.05</text>
<line x1="270.1" y1="161.7" x2="271.3" y2="161.7" stroke="#333" stroke-width="0.4"/>
<text x="269.9" y="163" font-family="Liberation Sans, sans-serif" font-size="3.8" fill="#222" text-anchor="end" font-weight="normal" font-style="normal" stroke="#222" stroke-width="0.12">0.00</text>
<line x1="270.1" y1="186.7" x2="271.3" y2="186.7" stroke="#333" stroke-width="0.4"/>
<text x="269.9" y="188" font-family="Liberation Sans, sans-serif" font-size="3.8" fill="#222" text-anchor="end" font-weight="normal" font-style="normal" stroke="#222" stroke-width="0.12">-0.05</text>
<line x1="270.1" y1="211.7" x2="271.3" y2="211.7" stroke="#333" stroke-width="0.4"/>
<text x="269.9" y="213" font-family="Liberation Sans, sans-serif" font-size="3.8" fill="#222" text-anchor="end" font-weight="normal" font-style="normal" stroke="#222" stroke-width="0.12">-0.10</text>
<text x="262.5" y="159" font-family="Liberation Sans, sans-serif" font-size="4.8" fill="#222" text-anchor="middle" transform="rotate(-90 262.5 159)">G-Score</text>
<line x1="286.28" y1="157" x2="286.28" y2="149.26" stroke="#a8a8a8" stroke-width="0.42"/>
<line x1="287.27" y1="157" x2="287.27" y2="148.83" stroke="#a8a8a8" stroke-width="0.42"/>
<line x1="289.19" y1="157" x2="289.19" y2="152.68" stroke="#a8a8a8" stroke-width="0.42"/>
<line x1="284.6" y1="157" x2="284.6" y2="147.16" stroke="#a8a8a8" stroke-width="0.42"/>
<line x1="286.45" y1="157" x2="286.45" y2="151.47" stroke="#a8a8a8" stroke-width="0.42"/>
<line x1="291.97" y1="157" x2="291.97" y2="149.79" stroke="#a8a8a8" stroke-width="0.42"/>
<line x1="308.06" y1="157" x2="308.06" y2="151.72" stroke="#a8a8a8" stroke-width="0.42"/>
<line x1="304.5" y1="157" x2="304.5" y2="153.42" stroke="#a8a8a8" stroke-width="0.42"/>
<line x1="304.43" y1="157" x2="304.43" y2="149.69" stroke="#a8a8a8" stroke-width="0.42"/>
<line x1="302.42" y1="157" x2="302.42" y2="150.35" stroke="#a8a8a8" stroke-width="0.42"/>
<line x1="305.09" y1="157" x2="305.09" y2="153.87" stroke="#a8a8a8" stroke-width="0.42"/>
<line x1="306.65" y1="157" x2="306.65" y2="151.13" stroke="#a8a8a8" stroke-width="0.42"/>
<line x1="298.42" y1="157" x2="298.42" y2="154.04" stroke="#a8a8a8" stroke-width="0.42"/>
<line x1="308.58" y1="157" x2="308.58" y2="151.74" stroke="#a8a8a8" stroke-width="0.42"/>
<line x1="305.94" y1="157" x2="305.94" y2="149.63" stroke="#a8a8a8" stroke-width="0.42"/>
<line x1="305.85" y1="157" x2="305.85" y2="149.41" stroke="#a8a8a8" stroke-width="0.42"/>
<line x1="300.11" y1="157" x2="300.11" y2="150.04" stroke="#a8a8a8" stroke-width="0.42"/>
<line x1="301" y1="157" x2="301" y2="149.33" stroke="#a8a8a8" stroke-width="0.42"/>
<line x1="308.82" y1="157" x2="308.82" y2="153.69" stroke="#a8a8a8" stroke-width="0.42"/>
<line x1="295.45" y1="157" x2="295.45" y2="153.07" stroke="#a8a8a8" stroke-width="0.42"/>
<line x1="317.79" y1="157" x2="317.79" y2="153.83" stroke="#a8a8a8" stroke-width="0.42"/>
<line x1="315.76" y1="157" x2="315.76" y2="154.27" stroke="#a8a8a8" stroke-width="0.42"/>
<line x1="315.04" y1="157" x2="315.04" y2="154" stroke="#a8a8a8" stroke-width="0.42"/>
<line x1="322.21" y1="157" x2="322.21" y2="152.98" stroke="#a8a8a8" stroke-width="0.42"/>
<line x1="325.01" y1="157" x2="325.01" y2="151.84" stroke="#a8a8a8" stroke-width="0.42"/>
<line x1="326.18" y1="157" x2="326.18" y2="151.75" stroke="#a8a8a8" stroke-width="0.42"/>
<line x1="328.28" y1="157" x2="328.28" y2="151.53" stroke="#a8a8a8" stroke-width="0.42"/>
<line x1="326.06" y1="157" x2="326.06" y2="154.49" stroke="#a8a8a8" stroke-width="0.42"/>
<line x1="328.33" y1="157" x2="328.33" y2="151.63" stroke="#a8a8a8" stroke-width="0.42"/>
<line x1="328.86" y1="157" x2="328.86" y2="153.04" stroke="#a8a8a8" stroke-width="0.42"/>
<line x1="326.57" y1="157" x2="326.57" y2="154.32" stroke="#a8a8a8" stroke-width="0.42"/>
<line x1="339.15" y1="157" x2="339.15" y2="153.75" stroke="#a8a8a8" stroke-width="0.42"/>
<line x1="333.13" y1="157" x2="333.13" y2="155.24" stroke="#a8a8a8" stroke-width="0.42"/>
<line x1="339.39" y1="157" x2="339.39" y2="152.53" stroke="#a8a8a8" stroke-width="0.42"/>
<line x1="330.97" y1="157" x2="330.97" y2="153.08" stroke="#a8a8a8" stroke-width="0.42"/>
<line x1="334.52" y1="157" x2="334.52" y2="154.98" stroke="#a8a8a8" stroke-width="0.42"/>
<line x1="333.23" y1="157" x2="333.23" y2="153.18" stroke="#a8a8a8" stroke-width="0.42"/>
<line x1="347.62" y1="157" x2="347.62" y2="153.21" stroke="#a8a8a8" stroke-width="0.42"/>
<line x1="346.84" y1="157" x2="346.84" y2="153.21" stroke="#a8a8a8" stroke-width="0.42"/>
<line x1="363.5" y1="157" x2="363.5" y2="151.63" stroke="#a8a8a8" stroke-width="0.42"/>
<line x1="366.09" y1="157" x2="366.09" y2="147.62" stroke="#a8a8a8" stroke-width="0.42"/>
<line x1="360.09" y1="157" x2="360.09" y2="147.51" stroke="#a8a8a8" stroke-width="0.42"/>
<line x1="356.95" y1="157" x2="356.95" y2="153.2" stroke="#a8a8a8" stroke-width="0.42"/>
<line x1="361.6" y1="157" x2="361.6" y2="153.48" stroke="#a8a8a8" stroke-width="0.42"/>
<line x1="355.16" y1="157" x2="355.16" y2="151.16" stroke="#a8a8a8" stroke-width="0.42"/>
<line x1="361.77" y1="157" x2="361.77" y2="152.71" stroke="#a8a8a8" stroke-width="0.42"/>
<line x1="352.68" y1="157" x2="352.68" y2="148.32" stroke="#a8a8a8" stroke-width="0.42"/>
<line x1="357.02" y1="157" x2="357.02" y2="147.76" stroke="#a8a8a8" stroke-width="0.42"/>
<line x1="366.35" y1="157" x2="366.35" y2="151.34" stroke="#a8a8a8" stroke-width="0.42"/>
<line x1="370.3" y1="157" x2="370.3" y2="152.87" stroke="#a8a8a8" stroke-width="0.42"/>
<line x1="371.22" y1="157" x2="371.22" y2="152.58" stroke="#a8a8a8" stroke-width="0.42"/>
<line x1="370.8" y1="157" x2="370.8" y2="152.48" stroke="#a8a8a8" stroke-width="0.42"/>
<line x1="389.41" y1="157" x2="389.41" y2="154.28" stroke="#a8a8a8" stroke-width="0.42"/>
<line x1="384.31" y1="157" x2="384.31" y2="153.73" stroke="#a8a8a8" stroke-width="0.42"/>
<line x1="382.38" y1="157" x2="382.38" y2="154.82" stroke="#a8a8a8" stroke-width="0.42"/>
<line x1="387.56" y1="167.2" x2="387.56" y2="170.81" stroke="#b4b4b4" stroke-width="0.42"/>
<line x1="340.33" y1="167.2" x2="340.33" y2="168.26" stroke="#b4b4b4" stroke-width="0.42"/>
<line x1="325.67" y1="167.2" x2="325.67" y2="171.1" stroke="#b4b4b4" stroke-width="0.42"/>
<line x1="282.21" y1="167.2" x2="282.21" y2="171.28" stroke="#b4b4b4" stroke-width="0.42"/>
<line x1="349.54" y1="167.2" x2="349.54" y2="168.5" stroke="#b4b4b4" stroke-width="0.42"/>
<line x1="349.01" y1="167.2" x2="349.01" y2="170.53" stroke="#b4b4b4" stroke-width="0.42"/>
<line x1="354.72" y1="167.2" x2="354.72" y2="169.96" stroke="#b4b4b4" stroke-width="0.42"/>
<line x1="357.76" y1="167.2" x2="357.76" y2="171.89" stroke="#b4b4b4" stroke-width="0.42"/>
<line x1="282.44" y1="167.2" x2="282.44" y2="168.5" stroke="#b4b4b4" stroke-width="0.42"/>
<line x1="354.36" y1="167.2" x2="354.36" y2="173.02" stroke="#b4b4b4" stroke-width="0.42"/>
<line x1="307.62" y1="167.2" x2="307.62" y2="170.48" stroke="#b4b4b4" stroke-width="0.42"/>
<line x1="345.19" y1="167.2" x2="345.19" y2="169.8" stroke="#b4b4b4" stroke-width="0.42"/>
<line x1="320.04" y1="167.2" x2="320.04" y2="169.76" stroke="#b4b4b4" stroke-width="0.42"/>
<line x1="320.61" y1="167.2" x2="320.61" y2="171.18" stroke="#b4b4b4" stroke-width="0.42"/>
<line x1="313.04" y1="167.2" x2="313.04" y2="170.09" stroke="#b4b4b4" stroke-width="0.42"/>
<line x1="364.95" y1="167.2" x2="364.95" y2="168.33" stroke="#b4b4b4" stroke-width="0.42"/>
<line x1="342.62" y1="167.2" x2="342.62" y2="171.88" stroke="#b4b4b4" stroke-width="0.42"/>
<line x1="314.1" y1="167.2" x2="314.1" y2="169.31" stroke="#b4b4b4" stroke-width="0.42"/>
<line x1="368.42" y1="167.2" x2="368.42" y2="169.39" stroke="#b4b4b4" stroke-width="0.42"/>
<line x1="300.61" y1="167.2" x2="300.61" y2="170.38" stroke="#b4b4b4" stroke-width="0.42"/>
<line x1="356.79" y1="167.2" x2="356.79" y2="168.71" stroke="#b4b4b4" stroke-width="0.42"/>
<line x1="315.42" y1="167.2" x2="315.42" y2="169.87" stroke="#b4b4b4" stroke-width="0.42"/>
<line x1="371.69" y1="167.2" x2="371.69" y2="170.39" stroke="#b4b4b4" stroke-width="0.42"/>
<line x1="374.11" y1="167.2" x2="374.11" y2="169.05" stroke="#b4b4b4" stroke-width="0.42"/>
<line x1="317.04" y1="167.2" x2="317.04" y2="171.45" stroke="#b4b4b4" stroke-width="0.42"/>
<line x1="377.34" y1="167.2" x2="377.34" y2="170.46" stroke="#b4b4b4" stroke-width="0.42"/>
<line x1="304.75" y1="167.2" x2="304.75" y2="168.8" stroke="#b4b4b4" stroke-width="0.42"/>
<line x1="338.26" y1="167.2" x2="338.26" y2="169.15" stroke="#b4b4b4" stroke-width="0.42"/>
<line x1="368.75" y1="167.2" x2="368.75" y2="172.39" stroke="#b4b4b4" stroke-width="0.42"/>
<line x1="300.19" y1="167.2" x2="300.19" y2="169.59" stroke="#b4b4b4" stroke-width="0.42"/>
<line x1="368.79" y1="167.2" x2="368.79" y2="171.41" stroke="#b4b4b4" stroke-width="0.42"/>
<line x1="368.69" y1="167.2" x2="368.69" y2="169.93" stroke="#b4b4b4" stroke-width="0.42"/>
<line x1="294.27" y1="167.2" x2="294.27" y2="169.66" stroke="#b4b4b4" stroke-width="0.42"/>
<line x1="367.32" y1="167.2" x2="367.32" y2="169.56" stroke="#b4b4b4" stroke-width="0.42"/>
<line x1="318.1" y1="167.2" x2="318.1" y2="170.28" stroke="#b4b4b4" stroke-width="0.42"/>
<line x1="326.17" y1="167.2" x2="326.17" y2="170.25" stroke="#b4b4b4" stroke-width="0.42"/>
<line x1="381.27" y1="167.2" x2="381.27" y2="168.98" stroke="#b4b4b4" stroke-width="0.42"/>
<line x1="280.51" y1="167.2" x2="280.51" y2="172.92" stroke="#b4b4b4" stroke-width="0.42"/>
<line x1="376.8" y1="167.2" x2="376.8" y2="173.13" stroke="#b4b4b4" stroke-width="0.42"/>
<line x1="327.78" y1="167.2" x2="327.78" y2="172.95" stroke="#b4b4b4" stroke-width="0.42"/>
<line x1="278.4" y1="157" x2="278.4" y2="137.4" stroke="#e06060" stroke-width="0.5"/>
<line x1="350.1" y1="157" x2="350.1" y2="111.2" stroke="#e06060" stroke-width="0.5"/>
<line x1="376.2" y1="157" x2="376.2" y2="150" stroke="#e06060" stroke-width="0.5"/>
<line x1="377.7" y1="157" x2="377.7" y2="140.2" stroke="#e06060" stroke-width="0.5"/>
<line x1="384.3" y1="157" x2="384.3" y2="134" stroke="#e06060" stroke-width="0.5"/>
<line x1="279" y1="167.2" x2="279" y2="175" stroke="#5a5ad8" stroke-width="0.5"/>
<line x1="293.6" y1="167.2" x2="293.6" y2="175" stroke="#5a5ad8" stroke-width="0.5"/>
<line x1="323.6" y1="167.2" x2="323.6" y2="176" stroke="#5a5ad8" stroke-width="0.5"/>
<line x1="325.4" y1="167.2" x2="325.4" y2="178" stroke="#5a5ad8" stroke-width="0.5"/>
<line x1="327" y1="167.2" x2="327" y2="180" stroke="#5a5ad8" stroke-width="0.5"/>
<line x1="328.5" y1="167.2" x2="328.5" y2="186" stroke="#5a5ad8" stroke-width="0.5"/>
<line x1="329.4" y1="167.2" x2="329.4" y2="190.6" stroke="#5a5ad8" stroke-width="0.5"/>
<line x1="330.4" y1="167.2" x2="330.4" y2="182" stroke="#5a5ad8" stroke-width="0.5"/>
<line x1="337.9" y1="167.2" x2="337.9" y2="174" stroke="#5a5ad8" stroke-width="0.5"/>
<line x1="350.6" y1="167.2" x2="350.6" y2="181" stroke="#5a5ad8" stroke-width="0.5"/>
<line x1="351.2" y1="167.2" x2="351.2" y2="184.5" stroke="#5a5ad8" stroke-width="0.5"/>
<line x1="373" y1="167.2" x2="373" y2="176" stroke="#5a5ad8" stroke-width="0.5"/>
<line x1="376.4" y1="167.2" x2="376.4" y2="176" stroke="#5a5ad8" stroke-width="0.5"/>
<rect x="276.6" y="157" width="9.67" height="10.2" fill="#000"/>
<rect x="286.27" y="157" width="9.44" height="10.2" fill="#fff"/>
<rect x="295.71" y="157" width="7.68" height="10.2" fill="#000"/>
<rect x="303.39" y="157" width="7.42" height="10.2" fill="#fff"/>
<rect x="310.81" y="157" width="7.02" height="10.2" fill="#000"/>
<rect x="317.82" y="157" width="6.64" height="10.2" fill="#fff"/>
<rect x="324.46" y="157" width="6.17" height="10.2" fill="#000"/>
<rect x="330.64" y="157" width="5.68" height="10.2" fill="#fff"/>
<rect x="336.32" y="157" width="5.48" height="10.2" fill="#000"/>
<rect x="341.79" y="157" width="5.26" height="10.2" fill="#fff"/>
<rect x="347.05" y="157" width="5.24" height="10.2" fill="#000"/>
<rect x="352.29" y="157" width="5.19" height="10.2" fill="#fff"/>
<rect x="357.48" y="157" width="4.47" height="10.2" fill="#000"/>
<rect x="361.95" y="157" width="4.17" height="10.2" fill="#fff"/>
<rect x="366.12" y="157" width="3.98" height="10.2" fill="#000"/>
<rect x="370.09" y="157" width="3.51" height="10.2" fill="#fff"/>
<rect x="373.6" y="157" width="3.15" height="10.2" fill="#000"/>
<rect x="376.75" y="157" width="3.03" height="10.2" fill="#fff"/>
<rect x="379.78" y="157" width="2.29" height="10.2" fill="#000"/>
<rect x="382.07" y="157" width="2.44" height="10.2" fill="#fff"/>
<rect x="384.52" y="157" width="1.87" height="10.2" fill="#000"/>
<rect x="386.38" y="157" width="1.99" height="10.2" fill="#fff"/>
<rect x="388.37" y="157" width="6.03" height="10.2" fill="#000"/>
<rect x="276.6" y="157" width="117.8" height="10.2" fill="none" stroke="#333" stroke-width="0.4"/>
<text x="347" y="145.9" font-family="Liberation Serif, sans-serif" font-size="5.1" fill="#000" text-anchor="start" font-weight="normal" font-style="italic" stroke="#000" stroke-width="0.12">11q23.3</text>
<text x="326.9" y="178.3" font-family="Liberation Serif, sans-serif" font-size="5" fill="#000" text-anchor="start" font-weight="normal" font-style="italic" stroke="#000" stroke-width="0.06">5q34</text>
<text x="327.2" y="184" font-family="Liberation Serif, sans-serif" font-size="5" fill="#000" text-anchor="start" font-weight="normal" font-style="italic" stroke="#000" stroke-width="0.06">5q35</text>
<text x="348.3" y="173.4" font-family="Liberation Serif, sans-serif" font-size="5" fill="#000" text-anchor="start" font-weight="normal" font-style="italic" stroke="#000" stroke-width="0.06">11p12.3</text>
<text x="348.3" y="180.2" font-family="Liberation Serif, sans-serif" font-size="5" fill="#000" text-anchor="start" font-weight="normal" font-style="italic" stroke="#000" stroke-width="0.06">12p13.2</text>
<text x="1.6" y="220.7" font-family="Liberation Sans, sans-serif" font-size="9.2" fill="#000" text-anchor="start" font-weight="bold" font-style="normal" stroke="#000" stroke-width="0.12">D</text>
<text x="102" y="224.5" font-family="Liberation Serif, sans-serif" font-size="4.9" fill="#111" text-anchor="middle" font-weight="normal" font-style="normal" stroke="#111" stroke-width="0.12">high risk</text>
<line x1="53.8" y1="228.2" x2="150.5" y2="228.2" stroke="#333" stroke-width="0.7"/>
<text x="51.8" y="233.5" font-family="Liberation Sans, sans-serif" font-size="4.4" fill="#222" text-anchor="middle" font-weight="normal" font-style="normal" stroke="#222" stroke-width="0.05">Amplification</text>
<text x="151.6" y="233.4" font-family="Liberation Serif, sans-serif" font-size="4.8" fill="#222" text-anchor="middle" font-weight="normal" font-style="normal" stroke="#222" stroke-width="0.12">deletion</text>
<rect x="19.8" y="238.5" width="4.1" height="10.88" fill="#fff"/>
<rect x="19.8" y="249.38" width="4.1" height="9.48" fill="#000"/>
<rect x="23.9" y="249.38" width="59.5" height="9.48" fill="#e6e6e6"/>
<rect x="19.8" y="258.87" width="4.1" height="9.48" fill="#fff"/>
<rect x="19.8" y="268.35" width="4.1" height="7.39" fill="#000"/>
<rect x="23.9" y="268.35" width="59.5" height="7.39" fill="#e6e6e6"/>
<rect x="19.8" y="275.74" width="4.1" height="7.89" fill="#fff"/>
<rect x="19.8" y="283.62" width="4.1" height="7.29" fill="#000"/>
<rect x="23.9" y="283.62" width="59.5" height="7.29" fill="#e6e6e6"/>
<rect x="19.8" y="290.91" width="4.1" height="7.19" fill="#fff"/>
<rect x="19.8" y="298.1" width="4.1" height="5.49" fill="#000"/>
<rect x="23.9" y="298.1" width="59.5" height="5.49" fill="#e6e6e6"/>
<rect x="19.8" y="303.59" width="4.1" height="5.99" fill="#fff"/>
<rect x="19.8" y="309.58" width="4.1" height="5.59" fill="#000"/>
<rect x="23.9" y="309.58" width="59.5" height="5.59" fill="#e6e6e6"/>
<rect x="19.8" y="315.17" width="4.1" height="6.29" fill="#fff"/>
<rect x="19.8" y="321.46" width="4.1" height="5.99" fill="#000"/>
<rect x="23.9" y="321.46" width="59.5" height="5.99" fill="#e6e6e6"/>
<rect x="19.8" y="327.45" width="4.1" height="5.49" fill="#fff"/>
<rect x="19.8" y="332.94" width="4.1" height="3.59" fill="#000"/>
<rect x="23.9" y="332.94" width="59.5" height="3.59" fill="#e6e6e6"/>
<rect x="19.8" y="336.54" width="4.1" height="3.29" fill="#fff"/>
<rect x="19.8" y="339.83" width="4.1" height="2.99" fill="#000"/>
<rect x="23.9" y="339.83" width="59.5" height="2.99" fill="#e6e6e6"/>
<rect x="19.8" y="342.82" width="4.1" height="2.8" fill="#fff"/>
<rect x="19.8" y="345.62" width="4.1" height="2.9" fill="#000"/>
<rect x="23.9" y="345.62" width="59.5" height="2.9" fill="#e6e6e6"/>
<rect x="19.8" y="348.51" width="4.1" height="2.4" fill="#fff"/>
<rect x="19.8" y="350.91" width="4.1" height="2.4" fill="#000"/>
<rect x="23.9" y="350.91" width="59.5" height="2.4" fill="#e6e6e6"/>
<rect x="19.8" y="353.31" width="4.1" height="2.1" fill="#fff"/>
<rect x="19.8" y="355.4" width="4.1" height="2" fill="#000"/>
<rect x="23.9" y="355.4" width="59.5" height="2" fill="#e6e6e6"/>
<line x1="25.75" y1="243.94" x2="82.4" y2="243.94" stroke="#b4b4b4" stroke-width="0.7" stroke-dasharray="0.7,3.7"/>
<line x1="25.75" y1="254.12" x2="82.4" y2="254.12" stroke="#b4b4b4" stroke-width="0.7" stroke-dasharray="0.7,3.7"/>
<line x1="25.75" y1="263.61" x2="82.4" y2="263.61" stroke="#b4b4b4" stroke-width="0.7" stroke-dasharray="0.7,3.7"/>
<line x1="25.75" y1="272.04" x2="82.4" y2="272.04" stroke="#b4b4b4" stroke-width="0.7" stroke-dasharray="0.7,3.7"/>
<line x1="25.75" y1="279.68" x2="82.4" y2="279.68" stroke="#b4b4b4" stroke-width="0.7" stroke-dasharray="0.7,3.7"/>
<line x1="25.75" y1="287.27" x2="82.4" y2="287.27" stroke="#b4b4b4" stroke-width="0.7" stroke-dasharray="0.7,3.7"/>
<line x1="25.75" y1="294.51" x2="82.4" y2="294.51" stroke="#b4b4b4" stroke-width="0.7" stroke-dasharray="0.7,3.7"/>
<line x1="25.75" y1="300.85" x2="82.4" y2="300.85" stroke="#b4b4b4" stroke-width="0.7" stroke-dasharray="0.7,3.7"/>
<line x1="25.75" y1="306.59" x2="82.4" y2="306.59" stroke="#b4b4b4" stroke-width="0.7" stroke-dasharray="0.7,3.7"/>
<line x1="25.75" y1="312.38" x2="82.4" y2="312.38" stroke="#b4b4b4" stroke-width="0.7" stroke-dasharray="0.7,3.7"/>
<line x1="25.75" y1="318.32" x2="82.4" y2="318.32" stroke="#b4b4b4" stroke-width="0.7" stroke-dasharray="0.7,3.7"/>
<line x1="25.75" y1="324.46" x2="82.4" y2="324.46" stroke="#b4b4b4" stroke-width="0.7" stroke-dasharray="0.7,3.7"/>
<line x1="25.75" y1="330.2" x2="82.4" y2="330.2" stroke="#b4b4b4" stroke-width="0.7" stroke-dasharray="0.7,3.7"/>
<line x1="25.75" y1="334.74" x2="82.4" y2="334.74" stroke="#b4b4b4" stroke-width="0.7" stroke-dasharray="0.7,3.7"/>
<line x1="25.75" y1="338.18" x2="82.4" y2="338.18" stroke="#b4b4b4" stroke-width="0.7" stroke-dasharray="0.7,3.7"/>
<line x1="25.75" y1="341.33" x2="82.4" y2="341.33" stroke="#b4b4b4" stroke-width="0.7" stroke-dasharray="0.7,3.7"/>
<line x1="25.75" y1="344.22" x2="82.4" y2="344.22" stroke="#b4b4b4" stroke-width="0.7" stroke-dasharray="0.7,3.7"/>
<line x1="25.75" y1="347.07" x2="82.4" y2="347.07" stroke="#b4b4b4" stroke-width="0.7" stroke-dasharray="0.7,3.7"/>
<line x1="25.75" y1="349.71" x2="82.4" y2="349.71" stroke="#b4b4b4" stroke-width="0.7" stroke-dasharray="0.7,3.7"/>
<line x1="25.75" y1="352.11" x2="82.4" y2="352.11" stroke="#b4b4b4" stroke-width="0.7" stroke-dasharray="0.7,3.7"/>
<line x1="25.75" y1="354.36" x2="82.4" y2="354.36" stroke="#b4b4b4" stroke-width="0.7" stroke-dasharray="0.7,3.7"/>
<line x1="25.75" y1="356.4" x2="82.4" y2="356.4" stroke="#b4b4b4" stroke-width="0.7" stroke-dasharray="0.7,3.7"/>
<line x1="41.3" y1="238.5" x2="41.3" y2="357.4" stroke="#6fb36f" stroke-width="0.45"/>
<rect x="23.9" y="247.3" width="12.1" height="0.6" fill="#f08080"/>
<rect x="23.9" y="250" width="33.1" height="1.4" fill="#ec8080"/>
<rect x="23.9" y="320.8" width="51.1" height="0.8" fill="#f08a8a"/>
<rect x="23.9" y="342.65" width="16.1" height="0.7" fill="#f08080"/>
<rect x="23.9" y="348.65" width="12.1" height="0.7" fill="#f08080"/>
<rect x="23.9" y="355.2" width="55.1" height="1.2" fill="#e84848"/>
<rect x="23.9" y="238.5" width="59.5" height="118.9" fill="none" stroke="#444" stroke-width="0.45"/>
<rect x="19.8" y="238.5" width="4.1" height="118.9" fill="none" stroke="#444" stroke-width="0.35"/>
<text x="9.3" y="244.84" font-family="Liberation Sans, sans-serif" font-size="2.6" fill="#888" text-anchor="middle" font-weight="normal" font-style="normal" stroke="#888" stroke-width="0">1</text>
<text x="15.5" y="255.02" font-family="Liberation Sans, sans-serif" font-size="2.6" fill="#888" text-anchor="middle" font-weight="normal" font-style="normal" stroke="#888" stroke-width="0">2</text>
<text x="9.3" y="264.51" font-family="Liberation Sans, sans-serif" font-size="2.6" fill="#888" text-anchor="middle" font-weight="normal" font-style="normal" stroke="#888" stroke-width="0">3</text>
<text x="15.5" y="272.94" font-family="Liberation Sans, sans-serif" font-size="2.6" fill="#888" text-anchor="middle" font-weight="normal" font-style="normal" stroke="#888" stroke-width="0">4</text>
<text x="9.3" y="280.58" font-family="Liberation Sans, sans-serif" font-size="2.6" fill="#888" text-anchor="middle" font-weight="normal" font-style="normal" stroke="#888" stroke-width="0">5</text>
<text x="15.5" y="288.17" font-family="Liberation Sans, sans-serif" font-size="2.6" fill="#888" text-anchor="middle" font-weight="normal" font-style="normal" stroke="#888" stroke-width="0">6</text>
<text x="9.3" y="295.41" font-family="Liberation Sans, sans-serif" font-size="2.6" fill="#888" text-anchor="middle" font-weight="normal" font-style="normal" stroke="#888" stroke-width="0">7</text>
<text x="15.5" y="301.75" font-family="Liberation Sans, sans-serif" font-size="2.6" fill="#888" text-anchor="middle" font-weight="normal" font-style="normal" stroke="#888" stroke-width="0">8</text>
<text x="9.3" y="307.49" font-family="Liberation Sans, sans-serif" font-size="2.6" fill="#888" text-anchor="middle" font-weight="normal" font-style="normal" stroke="#888" stroke-width="0">9</text>
<text x="15.5" y="313.28" font-family="Liberation Sans, sans-serif" font-size="2.6" fill="#888" text-anchor="middle" font-weight="normal" font-style="normal" stroke="#888" stroke-width="0">10</text>
<text x="9.3" y="319.22" font-family="Liberation Sans, sans-serif" font-size="2.6" fill="#888" text-anchor="middle" font-weight="normal" font-style="normal" stroke="#888" stroke-width="0">11</text>
<text x="15.5" y="325.36" font-family="Liberation Sans, sans-serif" font-size="2.6" fill="#888" text-anchor="middle" font-weight="normal" font-style="normal" stroke="#888" stroke-width="0">12</text>
<text x="9.3" y="331.1" font-family="Liberation Sans, sans-serif" font-size="2.6" fill="#888" text-anchor="middle" font-weight="normal" font-style="normal" stroke="#888" stroke-width="0">13</text>
<text x="15.5" y="335.64" font-family="Liberation Sans, sans-serif" font-size="2.6" fill="#888" text-anchor="middle" font-weight="normal" font-style="normal" stroke="#888" stroke-width="0">14</text>
<text x="9.3" y="339.08" font-family="Liberation Sans, sans-serif" font-size="2.6" fill="#888" text-anchor="middle" font-weight="normal" font-style="normal" stroke="#888" stroke-width="0">15</text>
<text x="15.5" y="342.23" font-family="Liberation Sans, sans-serif" font-size="2.6" fill="#888" text-anchor="middle" font-weight="normal" font-style="normal" stroke="#888" stroke-width="0">16</text>
<text x="9.3" y="345.12" font-family="Liberation Sans, sans-serif" font-size="2.6" fill="#888" text-anchor="middle" font-weight="normal" font-style="normal" stroke="#888" stroke-width="0">17</text>
<text x="15.5" y="347.97" font-family="Liberation Sans, sans-serif" font-size="2.6" fill="#888" text-anchor="middle" font-weight="normal" font-style="normal" stroke="#888" stroke-width="0">18</text>
<text x="9.3" y="350.61" font-family="Liberation Sans, sans-serif" font-size="2.6" fill="#888" text-anchor="middle" font-weight="normal" font-style="normal" stroke="#888" stroke-width="0">19</text>
<text x="15.5" y="353.01" font-family="Liberation Sans, sans-serif" font-size="2.6" fill="#888" text-anchor="middle" font-weight="normal" font-style="normal" stroke="#888" stroke-width="0">20</text>
<text x="9.3" y="355.26" font-family="Liberation Sans, sans-serif" font-size="2.6" fill="#888" text-anchor="middle" font-weight="normal" font-style="normal" stroke="#888" stroke-width="0">21</text>
<text x="15.5" y="357.3" font-family="Liberation Sans, sans-serif" font-size="2.6" fill="#888" text-anchor="middle" font-weight="normal" font-style="normal" stroke="#888" stroke-width="0">22</text>
<text x="23.5" y="238.5" font-family="Liberation Sans, sans-serif" font-size="2.8" fill="#444" text-anchor="middle" font-weight="normal" font-style="normal" stroke="#444" stroke-width="0.12">0</text>
<text x="41.3" y="238.5" font-family="Liberation Sans, sans-serif" font-size="2.8" fill="#444" text-anchor="middle" font-weight="normal" font-style="normal" stroke="#444" stroke-width="0.12">0.25</text>
<text x="67" y="238.5" font-family="Liberation Sans, sans-serif" font-size="2.8" fill="#444" text-anchor="middle" font-weight="normal" font-style="normal" stroke="#444" stroke-width="0.12">10</text>
<text x="41.3" y="360.6" font-family="Liberation Sans, sans-serif" font-size="2.6" fill="#444" text-anchor="middle" font-weight="normal" font-style="normal" stroke="#444" stroke-width="0.12">0.25</text>
<text x="49" y="360.6" font-family="Liberation Sans, sans-serif" font-size="2.6" fill="#444" text-anchor="middle" font-weight="normal" font-style="normal" stroke="#444" stroke-width="0.12">1e</text>
<text x="65" y="360.6" font-family="Liberation Sans, sans-serif" font-size="2.6" fill="#444" text-anchor="middle" font-weight="normal" font-style="normal" stroke="#444" stroke-width="0.12">1e</text>
<text x="74" y="360.6" font-family="Liberation Sans, sans-serif" font-size="2.6" fill="#444" text-anchor="middle" font-weight="normal" font-style="normal" stroke="#444" stroke-width="0.12">1e</text>
<text x="82" y="360.6" font-family="Liberation Sans, sans-serif" font-size="2.6" fill="#444" text-anchor="middle" font-weight="normal" font-style="normal" stroke="#444" stroke-width="0.12">1e</text>
<line x1="83.4" y1="250.6" x2="88.2" y2="250.6" stroke="#333" stroke-width="0.35"/>
<text x="88.4" y="251.5" font-family="Liberation Sans, sans-serif" font-size="2.8" fill="#555" text-anchor="start" font-weight="normal" font-style="normal" stroke="#555" stroke-width="0.04">11q13.3</text>
<line x1="83.4" y1="321.2" x2="88.2" y2="321.2" stroke="#333" stroke-width="0.35"/>
<text x="88.4" y="322.1" font-family="Liberation Sans, sans-serif" font-size="2.8" fill="#555" text-anchor="start" font-weight="normal" font-style="normal" stroke="#555" stroke-width="0.04">11q13.3</text>
<line x1="83.4" y1="355.8" x2="88.2" y2="355.8" stroke="#333" stroke-width="0.35"/>
<text x="88.4" y="356.7" font-family="Liberation Sans, sans-serif" font-size="2.8" fill="#555" text-anchor="start" font-weight="normal" font-style="normal" stroke="#555" stroke-width="0.04">11q13.3</text>
<rect x="120.6" y="238.6" width="3.7" height="10.89" fill="#fff"/>
<rect x="120.6" y="249.49" width="3.7" height="9.49" fill="#000"/>
<rect x="124.3" y="249.49" width="60.6" height="9.49" fill="#e6e6e6"/>
<rect x="120.6" y="258.98" width="3.7" height="9.49" fill="#fff"/>
<rect x="120.6" y="268.47" width="3.7" height="7.39" fill="#000"/>
<rect x="124.3" y="268.47" width="60.6" height="7.39" fill="#e6e6e6"/>
<rect x="120.6" y="275.87" width="3.7" height="7.89" fill="#fff"/>
<rect x="120.6" y="283.76" width="3.7" height="7.29" fill="#000"/>
<rect x="124.3" y="283.76" width="60.6" height="7.29" fill="#e6e6e6"/>
<rect x="120.6" y="291.06" width="3.7" height="7.19" fill="#fff"/>
<rect x="120.6" y="298.25" width="3.7" height="5.5" fill="#000"/>
<rect x="124.3" y="298.25" width="60.6" height="5.5" fill="#e6e6e6"/>
<rect x="120.6" y="303.75" width="3.7" height="5.99" fill="#fff"/>
<rect x="120.6" y="309.74" width="3.7" height="5.6" fill="#000"/>
<rect x="124.3" y="309.74" width="60.6" height="5.6" fill="#e6e6e6"/>
<rect x="120.6" y="315.34" width="3.7" height="6.29" fill="#fff"/>
<rect x="120.6" y="321.63" width="3.7" height="5.99" fill="#000"/>
<rect x="124.3" y="321.63" width="60.6" height="5.99" fill="#e6e6e6"/>
<rect x="120.6" y="327.63" width="3.7" height="5.5" fill="#fff"/>
<rect x="120.6" y="333.12" width="3.7" height="3.6" fill="#000"/>
<rect x="124.3" y="333.12" width="60.6" height="3.6" fill="#e6e6e6"/>
<rect x="120.6" y="336.72" width="3.7" height="3.3" fill="#fff"/>
<rect x="120.6" y="340.01" width="3.7" height="3" fill="#000"/>
<rect x="124.3" y="340.01" width="60.6" height="3" fill="#e6e6e6"/>
<rect x="120.6" y="343.01" width="3.7" height="2.8" fill="#fff"/>
<rect x="120.6" y="345.81" width="3.7" height="2.9" fill="#000"/>
<rect x="124.3" y="345.81" width="60.6" height="2.9" fill="#e6e6e6"/>
<rect x="120.6" y="348.71" width="3.7" height="2.4" fill="#fff"/>
<rect x="120.6" y="351.11" width="3.7" height="2.4" fill="#000"/>
<rect x="124.3" y="351.11" width="60.6" height="2.4" fill="#e6e6e6"/>
<rect x="120.6" y="353.5" width="3.7" height="2.1" fill="#fff"/>
<rect x="120.6" y="355.6" width="3.7" height="2" fill="#000"/>
<rect x="124.3" y="355.6" width="60.6" height="2" fill="#e6e6e6"/>
<line x1="126.15" y1="244.05" x2="183.9" y2="244.05" stroke="#b4b4b4" stroke-width="0.7" stroke-dasharray="0.7,3.7"/>
<line x1="126.15" y1="254.24" x2="183.9" y2="254.24" stroke="#b4b4b4" stroke-width="0.7" stroke-dasharray="0.7,3.7"/>
<line x1="126.15" y1="263.73" x2="183.9" y2="263.73" stroke="#b4b4b4" stroke-width="0.7" stroke-dasharray="0.7,3.7"/>
<line x1="126.15" y1="272.17" x2="183.9" y2="272.17" stroke="#b4b4b4" stroke-width="0.7" stroke-dasharray="0.7,3.7"/>
<line x1="126.15" y1="279.82" x2="183.9" y2="279.82" stroke="#b4b4b4" stroke-width="0.7" stroke-dasharray="0.7,3.7"/>
<line x1="126.15" y1="287.41" x2="183.9" y2="287.41" stroke="#b4b4b4" stroke-width="0.7" stroke-dasharray="0.7,3.7"/>
<line x1="126.15" y1="294.65" x2="183.9" y2="294.65" stroke="#b4b4b4" stroke-width="0.7" stroke-dasharray="0.7,3.7"/>
<line x1="126.15" y1="301" x2="183.9" y2="301" stroke="#b4b4b4" stroke-width="0.7" stroke-dasharray="0.7,3.7"/>
<line x1="126.15" y1="306.74" x2="183.9" y2="306.74" stroke="#b4b4b4" stroke-width="0.7" stroke-dasharray="0.7,3.7"/>
<line x1="126.15" y1="312.54" x2="183.9" y2="312.54" stroke="#b4b4b4" stroke-width="0.7" stroke-dasharray="0.7,3.7"/>
<line x1="126.15" y1="318.48" x2="183.9" y2="318.48" stroke="#b4b4b4" stroke-width="0.7" stroke-dasharray="0.7,3.7"/>
<line x1="126.15" y1="324.63" x2="183.9" y2="324.63" stroke="#b4b4b4" stroke-width="0.7" stroke-dasharray="0.7,3.7"/>
<line x1="126.15" y1="330.37" x2="183.9" y2="330.37" stroke="#b4b4b4" stroke-width="0.7" stroke-dasharray="0.7,3.7"/>
<line x1="126.15" y1="334.92" x2="183.9" y2="334.92" stroke="#b4b4b4" stroke-width="0.7" stroke-dasharray="0.7,3.7"/>
<line x1="126.15" y1="338.37" x2="183.9" y2="338.37" stroke="#b4b4b4" stroke-width="0.7" stroke-dasharray="0.7,3.7"/>
<line x1="126.15" y1="341.51" x2="183.9" y2="341.51" stroke="#b4b4b4" stroke-width="0.7" stroke-dasharray="0.7,3.7"/>
<line x1="126.15" y1="344.41" x2="183.9" y2="344.41" stroke="#b4b4b4" stroke-width="0.7" stroke-dasharray="0.7,3.7"/>
<line x1="126.15" y1="347.26" x2="183.9" y2="347.26" stroke="#b4b4b4" stroke-width="0.7" stroke-dasharray="0.7,3.7"/>
<line x1="126.15" y1="349.91" x2="183.9" y2="349.91" stroke="#b4b4b4" stroke-width="0.7" stroke-dasharray="0.7,3.7"/>
<line x1="126.15" y1="352.3" x2="183.9" y2="352.3" stroke="#b4b4b4" stroke-width="0.7" stroke-dasharray="0.7,3.7"/>
<line x1="126.15" y1="354.55" x2="183.9" y2="354.55" stroke="#b4b4b4" stroke-width="0.7" stroke-dasharray="0.7,3.7"/>
<line x1="126.15" y1="356.6" x2="183.9" y2="356.6" stroke="#b4b4b4" stroke-width="0.7" stroke-dasharray="0.7,3.7"/>
<line x1="150.2" y1="238.6" x2="150.2" y2="357.6" stroke="#6fb36f" stroke-width="0.45"/>
<rect x="124.3" y="242.45" width="35.4" height="0.7" fill="#7272ec"/>
<rect x="124.3" y="250.1" width="25.7" height="0.8" fill="#7272ec"/>
<rect x="124.3" y="250.05" width="17.3" height="0.9" fill="#3434de"/>
<rect x="124.3" y="251.9" width="5.7" height="0.6" fill="#3434de"/>
<rect x="124.3" y="258.65" width="41.3" height="0.7" fill="#7272ec"/>
<rect x="124.3" y="259.4" width="7.7" height="0.8" fill="#1616c4"/>
<rect x="124.3" y="262.1" width="8.7" height="1" fill="#1616c4"/>
<rect x="124.3" y="268.65" width="18.4" height="0.7" fill="#3434de"/>
<rect x="124.3" y="276.05" width="40.7" height="0.7" fill="#3434de"/>
<rect x="124.3" y="278.15" width="40.7" height="0.7" fill="#7272ec"/>
<rect x="124.3" y="279.8" width="40.7" height="0.6" fill="#3434de"/>
<rect x="124.3" y="283.7" width="3.7" height="0.6" fill="#3434de"/>
<rect x="124.3" y="290.65" width="23.7" height="0.7" fill="#3434de"/>
<rect x="124.3" y="293.65" width="25.7" height="0.7" fill="#7272ec"/>
<rect x="124.3" y="296.3" width="40.7" height="0.8" fill="#7272ec"/>
<rect x="124.3" y="296" width="17.3" height="1.4" fill="#1616c4"/>
<rect x="124.3" y="305.65" width="40.7" height="0.7" fill="#3434de"/>
<rect x="124.3" y="313.4" width="8.7" height="1.2" fill="#7272ec"/>
<rect x="124.3" y="319.65" width="35.4" height="0.7" fill="#3434de"/>
<rect x="124.3" y="322.1" width="25.7" height="0.8" fill="#3434de"/>
<rect x="124.3" y="322.4" width="5.7" height="1.6" fill="#1616c4"/>
<rect x="124.3" y="324.85" width="15.7" height="0.7" fill="#7272ec"/>
<rect x="124.3" y="329.7" width="5.7" height="0.6" fill="#3434de"/>
<rect x="124.3" y="332.65" width="35.7" height="0.7" fill="#3434de"/>
<rect x="124.3" y="334.65" width="40.7" height="0.7" fill="#7272ec"/>
<rect x="124.3" y="342.6" width="17.3" height="0.8" fill="#1616c4"/>
<rect x="124.3" y="344.7" width="8.7" height="0.6" fill="#3434de"/>
<rect x="124.3" y="346.65" width="25.7" height="0.7" fill="#3434de"/>
<rect x="124.3" y="350.1" width="15.7" height="0.8" fill="#7272ec"/>
<rect x="124.3" y="351.65" width="13.7" height="0.7" fill="#3434de"/>
<rect x="124.3" y="354.3" width="5.7" height="1.4" fill="#1616c4"/>
<rect x="124.3" y="238.6" width="60.6" height="119" fill="none" stroke="#444" stroke-width="0.45"/>
<rect x="120.6" y="238.6" width="3.7" height="119" fill="none" stroke="#444" stroke-width="0.35"/>
<text x="110.7" y="244.95" font-family="Liberation Sans, sans-serif" font-size="2.6" fill="#888" text-anchor="middle" font-weight="normal" font-style="normal" stroke="#888" stroke-width="0">1</text>
<text x="116.9" y="255.14" font-family="Liberation Sans, sans-serif" font-size="2.6" fill="#888" text-anchor="middle" font-weight="normal" font-style="normal" stroke="#888" stroke-width="0">2</text>
<text x="110.7" y="264.63" font-family="Liberation Sans, sans-serif" font-size="2.6" fill="#888" text-anchor="middle" font-weight="normal" font-style="normal" stroke="#888" stroke-width="0">3</text>
<text x="116.9" y="273.07" font-family="Liberation Sans, sans-serif" font-size="2.6" fill="#888" text-anchor="middle" font-weight="normal" font-style="normal" stroke="#888" stroke-width="0">4</text>
<text x="110.7" y="280.72" font-family="Liberation Sans, sans-serif" font-size="2.6" fill="#888" text-anchor="middle" font-weight="normal" font-style="normal" stroke="#888" stroke-width="0">5</text>
<text x="116.9" y="288.31" font-family="Liberation Sans, sans-serif" font-size="2.6" fill="#888" text-anchor="middle" font-weight="normal" font-style="normal" stroke="#888" stroke-width="0">6</text>
<text x="110.7" y="295.55" font-family="Liberation Sans, sans-serif" font-size="2.6" fill="#888" text-anchor="middle" font-weight="normal" font-style="normal" stroke="#888" stroke-width="0">7</text>
<text x="116.9" y="301.9" font-family="Liberation Sans, sans-serif" font-size="2.6" fill="#888" text-anchor="middle" font-weight="normal" font-style="normal" stroke="#888" stroke-width="0">8</text>
<text x="110.7" y="307.64" font-family="Liberation Sans, sans-serif" font-size="2.6" fill="#888" text-anchor="middle" font-weight="normal" font-style="normal" stroke="#888" stroke-width="0">9</text>
<text x="116.9" y="313.44" font-family="Liberation Sans, sans-serif" font-size="2.6" fill="#888" text-anchor="middle" font-weight="normal" font-style="normal" stroke="#888" stroke-width="0">10</text>
<text x="110.7" y="319.38" font-family="Liberation Sans, sans-serif" font-size="2.6" fill="#888" text-anchor="middle" font-weight="normal" font-style="normal" stroke="#888" stroke-width="0">11</text>
<text x="116.9" y="325.53" font-family="Liberation Sans, sans-serif" font-size="2.6" fill="#888" text-anchor="middle" font-weight="normal" font-style="normal" stroke="#888" stroke-width="0">12</text>
<text x="110.7" y="331.27" font-family="Liberation Sans, sans-serif" font-size="2.6" fill="#888" text-anchor="middle" font-weight="normal" font-style="normal" stroke="#888" stroke-width="0">13</text>
<text x="116.9" y="335.82" font-family="Liberation Sans, sans-serif" font-size="2.6" fill="#888" text-anchor="middle" font-weight="normal" font-style="normal" stroke="#888" stroke-width="0">14</text>
<text x="110.7" y="339.27" font-family="Liberation Sans, sans-serif" font-size="2.6" fill="#888" text-anchor="middle" font-weight="normal" font-style="normal" stroke="#888" stroke-width="0">15</text>
<text x="116.9" y="342.41" font-family="Liberation Sans, sans-serif" font-size="2.6" fill="#888" text-anchor="middle" font-weight="normal" font-style="normal" stroke="#888" stroke-width="0">16</text>
<text x="110.7" y="345.31" font-family="Liberation Sans, sans-serif" font-size="2.6" fill="#888" text-anchor="middle" font-weight="normal" font-style="normal" stroke="#888" stroke-width="0">17</text>
<text x="116.9" y="348.16" font-family="Liberation Sans, sans-serif" font-size="2.6" fill="#888" text-anchor="middle" font-weight="normal" font-style="normal" stroke="#888" stroke-width="0">18</text>
<text x="110.7" y="350.81" font-family="Liberation Sans, sans-serif" font-size="2.6" fill="#888" text-anchor="middle" font-weight="normal" font-style="normal" stroke="#888" stroke-width="0">19</text>
<text x="116.9" y="353.2" font-family="Liberation Sans, sans-serif" font-size="2.6" fill="#888" text-anchor="middle" font-weight="normal" font-style="normal" stroke="#888" stroke-width="0">20</text>
<text x="110.7" y="355.45" font-family="Liberation Sans, sans-serif" font-size="2.6" fill="#888" text-anchor="middle" font-weight="normal" font-style="normal" stroke="#888" stroke-width="0">21</text>
<text x="116.9" y="357.5" font-family="Liberation Sans, sans-serif" font-size="2.6" fill="#888" text-anchor="middle" font-weight="normal" font-style="normal" stroke="#888" stroke-width="0">22</text>
<text x="150.2" y="238.5" font-family="Liberation Sans, sans-serif" font-size="2.8" fill="#444" text-anchor="middle" font-weight="normal" font-style="normal" stroke="#444" stroke-width="0.12">0.25</text>
<text x="150.2" y="360.6" font-family="Liberation Sans, sans-serif" font-size="2.6" fill="#444" text-anchor="middle" font-weight="normal" font-style="normal" stroke="#444" stroke-width="0.12">0.25</text>
<text x="160.7" y="360.6" font-family="Liberation Sans, sans-serif" font-size="2.6" fill="#444" text-anchor="middle" font-weight="normal" font-style="normal" stroke="#444" stroke-width="0.12">1e</text>
<text x="183" y="360.6" font-family="Liberation Sans, sans-serif" font-size="2.6" fill="#444" text-anchor="middle" font-weight="normal" font-style="normal" stroke="#444" stroke-width="0.12">1e</text>
<polyline points="184.9,242.8 186,242.8 187.2,242.3 188,242.3" fill="none" stroke="#222" stroke-width="0.3"/>
<text x="188.2" y="243.2" font-family="Liberation Sans, sans-serif" font-size="2.8" fill="#666" text-anchor="start" font-weight="normal" font-style="normal" stroke="#666" stroke-width="0.02">11p15.5</text>
<polyline points="184.9,250.5 186,250.5 187.2,250.6 188,250.6" fill="none" stroke="#222" stroke-width="0.3"/>
<text x="188.2" y="251.5" font-family="Liberation Sans, sans-serif" font-size="2.8" fill="#666" text-anchor="start" font-weight="normal" font-style="normal" stroke="#666" stroke-width="0.02">11p15.5</text>
<polyline points="184.9,259 186,259 187.2,257.6 188,257.6" fill="none" stroke="#222" stroke-width="0.3"/>
<text x="188.2" y="258.5" font-family="Liberation Sans, sans-serif" font-size="2.8" fill="#666" text-anchor="start" font-weight="normal" font-style="normal" stroke="#666" stroke-width="0.02">11p15.5</text>
<polyline points="184.9,259.8 186,259.8 187.2,259.7 188,259.7" fill="none" stroke="#222" stroke-width="0.3"/>
<text x="188.2" y="260.6" font-family="Liberation Sans, sans-serif" font-size="2.8" fill="#666" text-anchor="start" font-weight="normal" font-style="normal" stroke="#666" stroke-width="0.02">11p15.5</text>
<polyline points="184.9,262.6 186,262.6 187.2,261.4 188,261.4" fill="none" stroke="#222" stroke-width="0.3"/>
<text x="188.2" y="262.3" font-family="Liberation Sans, sans-serif" font-size="2.8" fill="#666" text-anchor="start" font-weight="normal" font-style="normal" stroke="#666" stroke-width="0.02">11p15.5</text>
<polyline points="184.9,276.4 186,276.4 187.2,275 188,275" fill="none" stroke="#222" stroke-width="0.3"/>
<text x="188.2" y="275.9" font-family="Liberation Sans, sans-serif" font-size="2.8" fill="#666" text-anchor="start" font-weight="normal" font-style="normal" stroke="#666" stroke-width="0.02">11p15.5</text>
<polyline points="184.9,278.5 186,278.5 187.2,277.2 188,277.2" fill="none" stroke="#222" stroke-width="0.3"/>
<text x="188.2" y="278.1" font-family="Liberation Sans, sans-serif" font-size="2.8" fill="#666" text-anchor="start" font-weight="normal" font-style="normal" stroke="#666" stroke-width="0.02">11p15.5</text>
<polyline points="184.9,280.1 186,280.1 187.2,279.5 188,279.5" fill="none" stroke="#222" stroke-width="0.3"/>
<text x="188.2" y="280.4" font-family="Liberation Sans, sans-serif" font-size="2.8" fill="#666" text-anchor="start" font-weight="normal" font-style="normal" stroke="#666" stroke-width="0.02">11p15.5</text>
<polyline points="184.9,296 186,296 187.2,293.5 188,293.5" fill="none" stroke="#222" stroke-width="0.3"/>
<text x="188.2" y="294.4" font-family="Liberation Sans, sans-serif" font-size="2.8" fill="#666" text-anchor="start" font-weight="normal" font-style="normal" stroke="#666" stroke-width="0.02">11p15.5</text>
<polyline points="184.9,297 186,297 187.2,295.3 188,295.3" fill="none" stroke="#222" stroke-width="0.3"/>
<text x="188.2" y="296.2" font-family="Liberation Sans, sans-serif" font-size="2.8" fill="#666" text-anchor="start" font-weight="normal" font-style="normal" stroke="#666" stroke-width="0.02">11p15.5</text>
<polyline points="184.9,306 186,306 187.2,305.7 188,305.7" fill="none" stroke="#222" stroke-width="0.3"/>
<text x="188.2" y="306.6" font-family="Liberation Sans, sans-serif" font-size="2.8" fill="#666" text-anchor="start" font-weight="normal" font-style="normal" stroke="#666" stroke-width="0.02">11p15.5</text>
<polyline points="184.9,320 186,320 187.2,319.6 188,319.6" fill="none" stroke="#222" stroke-width="0.3"/>
<text x="188.2" y="320.5" font-family="Liberation Sans, sans-serif" font-size="2.8" fill="#666" text-anchor="start" font-weight="normal" font-style="normal" stroke="#666" stroke-width="0.02">11p15.5</text>
<polyline points="184.9,322.5 186,322.5 187.2,321.5 188,321.5" fill="none" stroke="#222" stroke-width="0.3"/>
<text x="188.2" y="322.4" font-family="Liberation Sans, sans-serif" font-size="2.8" fill="#666" text-anchor="start" font-weight="normal" font-style="normal" stroke="#666" stroke-width="0.02">11p15.5</text>
<polyline points="184.9,323.2 186,323.2 187.2,324.8 188,324.8" fill="none" stroke="#222" stroke-width="0.3"/>
<text x="188.2" y="325.7" font-family="Liberation Sans, sans-serif" font-size="2.8" fill="#666" text-anchor="start" font-weight="normal" font-style="normal" stroke="#666" stroke-width="0.02">11p15.5</text>
<polyline points="184.9,333 186,333 187.2,331.8 188,331.8" fill="none" stroke="#222" stroke-width="0.3"/>
<text x="188.2" y="332.7" font-family="Liberation Sans, sans-serif" font-size="2.8" fill="#666" text-anchor="start" font-weight="normal" font-style="normal" stroke="#666" stroke-width="0.02">11p15.5</text>
<polyline points="184.9,335 186,335 187.2,333.6 188,333.6" fill="none" stroke="#222" stroke-width="0.3"/>
<text x="188.2" y="334.5" font-family="Liberation Sans, sans-serif" font-size="2.8" fill="#666" text-anchor="start" font-weight="normal" font-style="normal" stroke="#666" stroke-width="0.02">11p15.5</text>
<polyline points="184.9,343 186,343 187.2,342.3 188,342.3" fill="none" stroke="#222" stroke-width="0.3"/>
<text x="188.2" y="343.2" font-family="Liberation Sans, sans-serif" font-size="2.8" fill="#666" text-anchor="start" font-weight="normal" font-style="normal" stroke="#666" stroke-width="0.02">11p15.5</text>
<polyline points="184.9,347 186,347 187.2,348.2 188,348.2" fill="none" stroke="#222" stroke-width="0.3"/>
<text x="188.2" y="349.1" font-family="Liberation Sans, sans-serif" font-size="2.8" fill="#666" text-anchor="start" font-weight="normal" font-style="normal" stroke="#666" stroke-width="0.02">11p15.5</text>
<text x="211.5" y="223.5" font-family="Liberation Sans, sans-serif" font-size="9.2" fill="#000" text-anchor="start" font-weight="bold" font-style="normal" stroke="#000" stroke-width="0.12">E</text>
<text x="302.6" y="224.5" font-family="Liberation Serif, sans-serif" font-size="4.9" fill="#111" text-anchor="middle" font-weight="normal" font-style="normal" stroke="#111" stroke-width="0.12">low risk</text>
<line x1="253.3" y1="228.1" x2="353" y2="228.1" stroke="#333" stroke-width="0.7"/>
<text x="253.5" y="233.5" font-family="Liberation Sans, sans-serif" font-size="4.4" fill="#222" text-anchor="middle" font-weight="normal" font-style="normal" stroke="#222" stroke-width="0.05">Amplification</text>
<text x="353.5" y="233.4" font-family="Liberation Serif, sans-serif" font-size="4.8" fill="#222" text-anchor="middle" font-weight="normal" font-style="normal" stroke="#222" stroke-width="0.12">deletion</text>
<rect x="221.3" y="238.4" width="3.8" height="10.9" fill="#fff"/>
<rect x="221.3" y="249.3" width="3.8" height="9.5" fill="#000"/>
<rect x="225.1" y="249.3" width="57.9" height="9.5" fill="#e6e6e6"/>
<rect x="221.3" y="258.8" width="3.8" height="9.5" fill="#fff"/>
<rect x="221.3" y="268.3" width="3.8" height="7.4" fill="#000"/>
<rect x="225.1" y="268.3" width="57.9" height="7.4" fill="#e6e6e6"/>
<rect x="221.3" y="275.7" width="3.8" height="7.9" fill="#fff"/>
<rect x="221.3" y="283.6" width="3.8" height="7.3" fill="#000"/>
<rect x="225.1" y="283.6" width="57.9" height="7.3" fill="#e6e6e6"/>
<rect x="221.3" y="290.9" width="3.8" height="7.2" fill="#fff"/>
<rect x="221.3" y="298.1" width="3.8" height="5.5" fill="#000"/>
<rect x="225.1" y="298.1" width="57.9" height="5.5" fill="#e6e6e6"/>
<rect x="221.3" y="303.6" width="3.8" height="6" fill="#fff"/>
<rect x="221.3" y="309.6" width="3.8" height="5.6" fill="#000"/>
<rect x="225.1" y="309.6" width="57.9" height="5.6" fill="#e6e6e6"/>
<rect x="221.3" y="315.2" width="3.8" height="6.3" fill="#fff"/>
<rect x="221.3" y="321.5" width="3.8" height="6" fill="#000"/>
<rect x="225.1" y="321.5" width="57.9" height="6" fill="#e6e6e6"/>
<rect x="221.3" y="327.5" width="3.8" height="5.5" fill="#fff"/>
<rect x="221.3" y="333" width="3.8" height="3.6" fill="#000"/>
<rect x="225.1" y="333" width="57.9" height="3.6" fill="#e6e6e6"/>
<rect x="221.3" y="336.6" width="3.8" height="3.3" fill="#fff"/>
<rect x="221.3" y="339.9" width="3.8" height="3" fill="#000"/>
<rect x="225.1" y="339.9" width="57.9" height="3" fill="#e6e6e6"/>
<rect x="221.3" y="342.9" width="3.8" height="2.8" fill="#fff"/>
<rect x="221.3" y="345.7" width="3.8" height="2.9" fill="#000"/>
<rect x="225.1" y="345.7" width="57.9" height="2.9" fill="#e6e6e6"/>
<rect x="221.3" y="348.6" width="3.8" height="2.4" fill="#fff"/>
<rect x="221.3" y="351" width="3.8" height="2.4" fill="#000"/>
<rect x="225.1" y="351" width="57.9" height="2.4" fill="#e6e6e6"/>
<rect x="221.3" y="353.4" width="3.8" height="2.1" fill="#fff"/>
<rect x="221.3" y="355.5" width="3.8" height="2" fill="#000"/>
<rect x="225.1" y="355.5" width="57.9" height="2" fill="#e6e6e6"/>
<line x1="226.95" y1="243.85" x2="282" y2="243.85" stroke="#b4b4b4" stroke-width="0.7" stroke-dasharray="0.7,3.7"/>
<line x1="226.95" y1="254.05" x2="282" y2="254.05" stroke="#b4b4b4" stroke-width="0.7" stroke-dasharray="0.7,3.7"/>
<line x1="226.95" y1="263.55" x2="282" y2="263.55" stroke="#b4b4b4" stroke-width="0.7" stroke-dasharray="0.7,3.7"/>
<line x1="226.95" y1="272" x2="282" y2="272" stroke="#b4b4b4" stroke-width="0.7" stroke-dasharray="0.7,3.7"/>
<line x1="226.95" y1="279.65" x2="282" y2="279.65" stroke="#b4b4b4" stroke-width="0.7" stroke-dasharray="0.7,3.7"/>
<line x1="226.95" y1="287.25" x2="282" y2="287.25" stroke="#b4b4b4" stroke-width="0.7" stroke-dasharray="0.7,3.7"/>
<line x1="226.95" y1="294.5" x2="282" y2="294.5" stroke="#b4b4b4" stroke-width="0.7" stroke-dasharray="0.7,3.7"/>
<line x1="226.95" y1="300.85" x2="282" y2="300.85" stroke="#b4b4b4" stroke-width="0.7" stroke-dasharray="0.7,3.7"/>
<line x1="226.95" y1="306.6" x2="282" y2="306.6" stroke="#b4b4b4" stroke-width="0.7" stroke-dasharray="0.7,3.7"/>
<line x1="226.95" y1="312.4" x2="282" y2="312.4" stroke="#b4b4b4" stroke-width="0.7" stroke-dasharray="0.7,3.7"/>
<line x1="226.95" y1="318.35" x2="282" y2="318.35" stroke="#b4b4b4" stroke-width="0.7" stroke-dasharray="0.7,3.7"/>
<line x1="226.95" y1="324.5" x2="282" y2="324.5" stroke="#b4b4b4" stroke-width="0.7" stroke-dasharray="0.7,3.7"/>
<line x1="226.95" y1="330.25" x2="282" y2="330.25" stroke="#b4b4b4" stroke-width="0.7" stroke-dasharray="0.7,3.7"/>
<line x1="226.95" y1="334.8" x2="282" y2="334.8" stroke="#b4b4b4" stroke-width="0.7" stroke-dasharray="0.7,3.7"/>
<line x1="226.95" y1="338.25" x2="282" y2="338.25" stroke="#b4b4b4" stroke-width="0.7" stroke-dasharray="0.7,3.7"/>
<line x1="226.95" y1="341.4" x2="282" y2="341.4" stroke="#b4b4b4" stroke-width="0.7" stroke-dasharray="0.7,3.7"/>
<line x1="226.95" y1="344.3" x2="282" y2="344.3" stroke="#b4b4b4" stroke-width="0.7" stroke-dasharray="0.7,3.7"/>
<line x1="226.95" y1="347.15" x2="282" y2="347.15" stroke="#b4b4b4" stroke-width="0.7" stroke-dasharray="0.7,3.7"/>
<line x1="226.95" y1="349.8" x2="282" y2="349.8" stroke="#b4b4b4" stroke-width="0.7" stroke-dasharray="0.7,3.7"/>
<line x1="226.95" y1="352.2" x2="282" y2="352.2" stroke="#b4b4b4" stroke-width="0.7" stroke-dasharray="0.7,3.7"/>
<line x1="226.95" y1="354.45" x2="282" y2="354.45" stroke="#b4b4b4" stroke-width="0.7" stroke-dasharray="0.7,3.7"/>
<line x1="226.95" y1="356.5" x2="282" y2="356.5" stroke="#b4b4b4" stroke-width="0.7" stroke-dasharray="0.7,3.7"/>
<line x1="267.5" y1="238.4" x2="267.5" y2="357.5" stroke="#6fb36f" stroke-width="0.45"/>
<rect x="225.1" y="238.9" width="42.9" height="2.2" fill="#f19090"/>
<rect x="225.1" y="242.55" width="42.9" height="0.7" fill="#f5b0b0"/>
<rect x="225.1" y="245.8" width="42.9" height="0.8" fill="#f19090"/>
<rect x="225.1" y="247.6" width="42.9" height="0.8" fill="#f19090"/>
<rect x="225.1" y="249.9" width="26.6" height="1" fill="#f19090"/>
<rect x="225.1" y="252.35" width="42.9" height="1.3" fill="#ec5656"/>
<rect x="225.1" y="254.4" width="42.9" height="0.8" fill="#f19090"/>
<rect x="225.1" y="256" width="42.9" height="1" fill="#ec5656"/>
<rect x="225.1" y="257.95" width="42.9" height="1.1" fill="#f19090"/>
<rect x="225.1" y="260.35" width="42.9" height="0.7" fill="#f5b0b0"/>
<rect x="225.1" y="262.9" width="32.9" height="1" fill="#f19090"/>
<rect x="225.1" y="266.25" width="42.9" height="1.3" fill="#ec5656"/>
<rect x="225.1" y="267.9" width="42.9" height="0.8" fill="#f19090"/>
<rect x="225.1" y="269.4" width="42.9" height="0.8" fill="#ec5656"/>
<rect x="225.1" y="271.5" width="42.9" height="2" fill="#e63434"/>
<rect x="225.1" y="274.2" width="42.9" height="1" fill="#ec5656"/>
<rect x="225.1" y="278.6" width="42.9" height="0.8" fill="#f19090"/>
<rect x="225.1" y="283.5" width="24.9" height="1.4" fill="#f5b0b0"/>
<rect x="225.1" y="285.6" width="42.9" height="1.4" fill="#e63434"/>
<rect x="225.1" y="287.2" width="22.9" height="1.6" fill="#ec5656"/>
<rect x="225.1" y="289.6" width="42.9" height="0.8" fill="#f19090"/>
<rect x="225.1" y="291.1" width="42.9" height="2.2" fill="#ec5656"/>
<rect x="225.1" y="293.75" width="42.9" height="0.9" fill="#f19090"/>
<rect x="225.1" y="295" width="42.9" height="2" fill="#f5b0b0"/>
<rect x="225.1" y="298.05" width="42.9" height="1.5" fill="#e63434"/>
<rect x="225.1" y="300" width="42.9" height="1" fill="#f19090"/>
<rect x="225.1" y="302.7" width="42.9" height="1" fill="#f19090"/>
<rect x="225.1" y="305.5" width="42.9" height="1.4" fill="#f19090"/>
<rect x="225.1" y="307.4" width="42.9" height="0.8" fill="#f19090"/>
<rect x="225.1" y="309" width="36.9" height="1" fill="#f19090"/>
<rect x="225.1" y="311" width="42.9" height="1" fill="#f19090"/>
<rect x="225.1" y="312.5" width="42.9" height="0.6" fill="#f5b0b0"/>
<rect x="225.1" y="313.4" width="42.9" height="1.6" fill="#ec5656"/>
<rect x="225.1" y="315.8" width="42.9" height="1.4" fill="#f19090"/>
<rect x="225.1" y="317.9" width="42.9" height="1" fill="#f19090"/>
<rect x="225.1" y="317.9" width="6.9" height="1" fill="#e63434"/>
<rect x="225.1" y="319.35" width="42.9" height="0.9" fill="#f19090"/>
<rect x="225.1" y="322.1" width="42.9" height="1.4" fill="#f19090"/>
<rect x="225.1" y="324.3" width="42.9" height="1" fill="#f5b0b0"/>
<rect x="225.1" y="327" width="42.9" height="1.2" fill="#f19090"/>
<rect x="225.1" y="331.65" width="42.9" height="0.7" fill="#f19090"/>
<rect x="225.1" y="333.5" width="42.9" height="1.4" fill="#f19090"/>
<rect x="225.1" y="336.4" width="42.9" height="2.2" fill="#e63434"/>
<rect x="225.1" y="339.5" width="42.9" height="1" fill="#ec5656"/>
<rect x="225.1" y="345" width="42.9" height="1" fill="#f19090"/>
<rect x="225.1" y="346.5" width="42.9" height="1" fill="#f19090"/>
<rect x="225.1" y="346.5" width="10.9" height="1" fill="#e63434"/>
<rect x="225.1" y="348.2" width="42.9" height="0.8" fill="#f19090"/>
<rect x="225.1" y="350" width="42.9" height="1" fill="#f19090"/>
<rect x="225.1" y="351.45" width="42.9" height="1.1" fill="#ec5656"/>
<rect x="225.1" y="353.15" width="42.9" height="0.9" fill="#f19090"/>
<rect x="225.1" y="355.05" width="42.9" height="1.5" fill="#e63434"/>
<rect x="225.1" y="238.4" width="57.9" height="119.1" fill="none" stroke="#444" stroke-width="0.45"/>
<rect x="221.3" y="238.4" width="3.8" height="119.1" fill="none" stroke="#444" stroke-width="0.35"/>
<text x="212.3" y="244.75" font-family="Liberation Sans, sans-serif" font-size="2.6" fill="#888" text-anchor="middle" font-weight="normal" font-style="normal" stroke="#888" stroke-width="0">1</text>
<text x="218.5" y="254.95" font-family="Liberation Sans, sans-serif" font-size="2.6" fill="#888" text-anchor="middle" font-weight="normal" font-style="normal" stroke="#888" stroke-width="0">2</text>
<text x="212.3" y="264.45" font-family="Liberation Sans, sans-serif" font-size="2.6" fill="#888" text-anchor="middle" font-weight="normal" font-style="normal" stroke="#888" stroke-width="0">3</text>
<text x="218.5" y="272.9" font-family="Liberation Sans, sans-serif" font-size="2.6" fill="#888" text-anchor="middle" font-weight="normal" font-style="normal" stroke="#888" stroke-width="0">4</text>
<text x="212.3" y="280.55" font-family="Liberation Sans, sans-serif" font-size="2.6" fill="#888" text-anchor="middle" font-weight="normal" font-style="normal" stroke="#888" stroke-width="0">5</text>
<text x="218.5" y="288.15" font-family="Liberation Sans, sans-serif" font-size="2.6" fill="#888" text-anchor="middle" font-weight="normal" font-style="normal" stroke="#888" stroke-width="0">6</text>
<text x="212.3" y="295.4" font-family="Liberation Sans, sans-serif" font-size="2.6" fill="#888" text-anchor="middle" font-weight="normal" font-style="normal" stroke="#888" stroke-width="0">7</text>
<text x="218.5" y="301.75" font-family="Liberation Sans, sans-serif" font-size="2.6" fill="#888" text-anchor="middle" font-weight="normal" font-style="normal" stroke="#888" stroke-width="0">8</text>
<text x="212.3" y="307.5" font-family="Liberation Sans, sans-serif" font-size="2.6" fill="#888" text-anchor="middle" font-weight="normal" font-style="normal" stroke="#888" stroke-width="0">9</text>
<text x="218.5" y="313.3" font-family="Liberation Sans, sans-serif" font-size="2.6" fill="#888" text-anchor="middle" font-weight="normal" font-style="normal" stroke="#888" stroke-width="0">10</text>
<text x="212.3" y="319.25" font-family="Liberation Sans, sans-serif" font-size="2.6" fill="#888" text-anchor="middle" font-weight="normal" font-style="normal" stroke="#888" stroke-width="0">11</text>
<text x="218.5" y="325.4" font-family="Liberation Sans, sans-serif" font-size="2.6" fill="#888" text-anchor="middle" font-weight="normal" font-style="normal" stroke="#888" stroke-width="0">12</text>
<text x="212.3" y="331.15" font-family="Liberation Sans, sans-serif" font-size="2.6" fill="#888" text-anchor="middle" font-weight="normal" font-style="normal" stroke="#888" stroke-width="0">13</text>
<text x="218.5" y="335.7" font-family="Liberation Sans, sans-serif" font-size="2.6" fill="#888" text-anchor="middle" font-weight="normal" font-style="normal" stroke="#888" stroke-width="0">14</text>
<text x="212.3" y="339.15" font-family="Liberation Sans, sans-serif" font-size="2.6" fill="#888" text-anchor="middle" font-weight="normal" font-style="normal" stroke="#888" stroke-width="0">15</text>
<text x="218.5" y="342.3" font-family="Liberation Sans, sans-serif" font-size="2.6" fill="#888" text-anchor="middle" font-weight="normal" font-style="normal" stroke="#888" stroke-width="0">16</text>
<text x="212.3" y="345.2" font-family="Liberation Sans, sans-serif" font-size="2.6" fill="#888" text-anchor="middle" font-weight="normal" font-style="normal" stroke="#888" stroke-width="0">17</text>
<text x="218.5" y="348.05" font-family="Liberation Sans, sans-serif" font-size="2.6" fill="#888" text-anchor="middle" font-weight="normal" font-style="normal" stroke="#888" stroke-width="0">18</text>
<text x="212.3" y="350.7" font-family="Liberation Sans, sans-serif" font-size="2.6" fill="#888" text-anchor="middle" font-weight="normal" font-style="normal" stroke="#888" stroke-width="0">19</text>
<text x="218.5" y="353.1" font-family="Liberation Sans, sans-serif" font-size="2.6" fill="#888" text-anchor="middle" font-weight="normal" font-style="normal" stroke="#888" stroke-width="0">20</text>
<text x="212.3" y="355.35" font-family="Liberation Sans, sans-serif" font-size="2.6" fill="#888" text-anchor="middle" font-weight="normal" font-style="normal" stroke="#888" stroke-width="0">21</text>
<text x="218.5" y="357.4" font-family="Liberation Sans, sans-serif" font-size="2.6" fill="#888" text-anchor="middle" font-weight="normal" font-style="normal" stroke="#888" stroke-width="0">22</text>
<text x="265" y="238.5" font-family="Liberation Sans, sans-serif" font-size="2.8" fill="#444" text-anchor="middle" font-weight="normal" font-style="normal" stroke="#444" stroke-width="0.12">0.00</text>
<text x="273" y="238.5" font-family="Liberation Sans, sans-serif" font-size="2.8" fill="#444" text-anchor="middle" font-weight="normal" font-style="normal" stroke="#444" stroke-width="0.12">0.1</text>
<text x="280" y="238.5" font-family="Liberation Sans, sans-serif" font-size="2.8" fill="#444" text-anchor="middle" font-weight="normal" font-style="normal" stroke="#444" stroke-width="0.12">0.2</text>
<text x="265" y="360.6" font-family="Liberation Sans, sans-serif" font-size="2.6" fill="#444" text-anchor="middle" font-weight="normal" font-style="normal" stroke="#444" stroke-width="0.12">0.25</text>
<text x="284" y="360.6" font-family="Liberation Sans, sans-serif" font-size="2.6" fill="#444" text-anchor="middle" font-weight="normal" font-style="normal" stroke="#444" stroke-width="0.12">1e</text>
<path d="M283,239 C286.8,239 287.2,239.8 291,239.8" fill="none" stroke="#000" stroke-width="0.48"/>
<path d="M283,247.07 C286.8,247.07 287.2,241.25 291,241.25" fill="none" stroke="#000" stroke-width="0.48"/>
<path d="M283,245.94 C286.8,245.94 287.2,242.7 291,242.7" fill="none" stroke="#000" stroke-width="0.48"/>
<path d="M283,252.21 C286.8,252.21 287.2,244.15 291,244.15" fill="none" stroke="#000" stroke-width="0.48"/>
<path d="M283,249.93 C286.8,249.93 287.2,245.6 291,245.6" fill="none" stroke="#000" stroke-width="0.48"/>
<path d="M283,250.98 C286.8,250.98 287.2,247.05 291,247.05" fill="none" stroke="#000" stroke-width="0.48"/>
<path d="M283,254.49 C286.8,254.49 287.2,248.5 291,248.5" fill="none" stroke="#000" stroke-width="0.48"/>
<path d="M283,248.15 C286.8,248.15 287.2,249.95 291,249.95" fill="none" stroke="#000" stroke-width="0.48"/>
<path d="M283,249.15 C286.8,249.15 287.2,251.4 291,251.4" fill="none" stroke="#000" stroke-width="0.48"/>
<path d="M283,247.09 C286.8,247.09 287.2,252.85 291,252.85" fill="none" stroke="#000" stroke-width="0.48"/>
<path d="M283,247.18 C286.8,247.18 287.2,254.3 291,254.3" fill="none" stroke="#000" stroke-width="0.48"/>
<path d="M283,248.92 C286.8,248.92 287.2,255.75 291,255.75" fill="none" stroke="#000" stroke-width="0.48"/>
<path d="M283,249.94 C286.8,249.94 287.2,257.2 291,257.2" fill="none" stroke="#000" stroke-width="0.48"/>
<path d="M283,257.69 C286.8,257.69 287.2,258.65 291,258.65" fill="none" stroke="#000" stroke-width="0.48"/>
<path d="M283,257.76 C286.8,257.76 287.2,260.1 291,260.1" fill="none" stroke="#000" stroke-width="0.48"/>
<path d="M283,263.11 C286.8,263.11 287.2,261.55 291,261.55" fill="none" stroke="#000" stroke-width="0.48"/>
<path d="M283,265.68 C286.8,265.68 287.2,263 291,263" fill="none" stroke="#000" stroke-width="0.48"/>
<path d="M283,269.91 C286.8,269.91 287.2,264.45 291,264.45" fill="none" stroke="#000" stroke-width="0.48"/>
<path d="M283,272.14 C286.8,272.14 287.2,265.9 291,265.9" fill="none" stroke="#000" stroke-width="0.48"/>
<path d="M283,275.13 C286.8,275.13 287.2,267.35 291,267.35" fill="none" stroke="#000" stroke-width="0.48"/>
<path d="M283,270.96 C286.8,270.96 287.2,268.8 291,268.8" fill="none" stroke="#000" stroke-width="0.48"/>
<path d="M283,267.76 C286.8,267.76 287.2,270.25 291,270.25" fill="none" stroke="#000" stroke-width="0.48"/>
<path d="M283,267.05 C286.8,267.05 287.2,271.7 291,271.7" fill="none" stroke="#000" stroke-width="0.48"/>
<path d="M283,270.51 C286.8,270.51 287.2,273.15 291,273.15" fill="none" stroke="#000" stroke-width="0.48"/>
<path d="M283,265.11 C286.8,265.11 287.2,274.6 291,274.6" fill="none" stroke="#000" stroke-width="0.48"/>
<path d="M283,270 C286.8,270 287.2,276.05 291,276.05" fill="none" stroke="#000" stroke-width="0.48"/>
<path d="M283,271.43 C286.8,271.43 287.2,277.5 291,277.5" fill="none" stroke="#000" stroke-width="0.48"/>
<path d="M283,277.08 C286.8,277.08 287.2,278.95 291,278.95" fill="none" stroke="#000" stroke-width="0.48"/>
<path d="M283,279.67 C286.8,279.67 287.2,280.4 291,280.4" fill="none" stroke="#000" stroke-width="0.48"/>
<path d="M283,286.25 C286.8,286.25 287.2,281.85 291,281.85" fill="none" stroke="#000" stroke-width="0.48"/>
<path d="M283,288.91 C286.8,288.91 287.2,283.3 291,283.3" fill="none" stroke="#000" stroke-width="0.48"/>
<path d="M283,292.53 C286.8,292.53 287.2,284.75 291,284.75" fill="none" stroke="#000" stroke-width="0.48"/>
<path d="M283,295.37 C286.8,295.37 287.2,286.2 291,286.2" fill="none" stroke="#000" stroke-width="0.48"/>
<path d="M283,293.43 C286.8,293.43 287.2,287.65 291,287.65" fill="none" stroke="#000" stroke-width="0.48"/>
<path d="M283,289.73 C286.8,289.73 287.2,289.1 291,289.1" fill="none" stroke="#000" stroke-width="0.48"/>
<path d="M283,287.64 C286.8,287.64 287.2,290.55 291,290.55" fill="none" stroke="#000" stroke-width="0.48"/>
<path d="M283,291.37 C286.8,291.37 287.2,292 291,292" fill="none" stroke="#000" stroke-width="0.48"/>
<path d="M283,287.72 C286.8,287.72 287.2,293.45 291,293.45" fill="none" stroke="#000" stroke-width="0.48"/>
<path d="M283,286.17 C286.8,286.17 287.2,294.9 291,294.9" fill="none" stroke="#000" stroke-width="0.48"/>
<path d="M283,292.28 C286.8,292.28 287.2,296.35 291,296.35" fill="none" stroke="#000" stroke-width="0.48"/>
<path d="M283,293.02 C286.8,293.02 287.2,297.8 291,297.8" fill="none" stroke="#000" stroke-width="0.48"/>
<path d="M283,297.9 C286.8,297.9 287.2,299.25 291,299.25" fill="none" stroke="#000" stroke-width="0.48"/>
<path d="M283,303.34 C286.8,303.34 287.2,300.7 291,300.7" fill="none" stroke="#000" stroke-width="0.48"/>
<path d="M283,304.22 C286.8,304.22 287.2,302.15 291,302.15" fill="none" stroke="#000" stroke-width="0.48"/>
<path d="M283,308.44 C286.8,308.44 287.2,303.6 291,303.6" fill="none" stroke="#000" stroke-width="0.48"/>
<path d="M283,314.22 C286.8,314.22 287.2,305.05 291,305.05" fill="none" stroke="#000" stroke-width="0.48"/>
<path d="M283,311.04 C286.8,311.04 287.2,306.5 291,306.5" fill="none" stroke="#000" stroke-width="0.48"/>
<path d="M283,314.75 C286.8,314.75 287.2,307.95 291,307.95" fill="none" stroke="#000" stroke-width="0.48"/>
<path d="M283,309.65 C286.8,309.65 287.2,309.4 291,309.4" fill="none" stroke="#000" stroke-width="0.48"/>
<path d="M283,311.58 C286.8,311.58 287.2,310.85 291,310.85" fill="none" stroke="#000" stroke-width="0.48"/>
<path d="M283,310.1 C286.8,310.1 287.2,312.3 291,312.3" fill="none" stroke="#000" stroke-width="0.48"/>
<path d="M283,310.72 C286.8,310.72 287.2,313.75 291,313.75" fill="none" stroke="#000" stroke-width="0.48"/>
<path d="M283,310.35 C286.8,310.35 287.2,315.2 291,315.2" fill="none" stroke="#000" stroke-width="0.48"/>
<path d="M283,309.96 C286.8,309.96 287.2,316.65 291,316.65" fill="none" stroke="#000" stroke-width="0.48"/>
<path d="M283,311.11 C286.8,311.11 287.2,318.1 291,318.1" fill="none" stroke="#000" stroke-width="0.48"/>
<path d="M283,314.84 C286.8,314.84 287.2,319.55 291,319.55" fill="none" stroke="#000" stroke-width="0.48"/>
<path d="M283,321.64 C286.8,321.64 287.2,321 291,321" fill="none" stroke="#000" stroke-width="0.48"/>
<path d="M283,325.97 C286.8,325.97 287.2,322.45 291,322.45" fill="none" stroke="#000" stroke-width="0.48"/>
<path d="M283,327.09 C286.8,327.09 287.2,323.9 291,323.9" fill="none" stroke="#000" stroke-width="0.48"/>
<path d="M283,334.69 C286.8,334.69 287.2,325.35 291,325.35" fill="none" stroke="#000" stroke-width="0.48"/>
<path d="M283,333.54 C286.8,333.54 287.2,326.8 291,326.8" fill="none" stroke="#000" stroke-width="0.48"/>
<path d="M283,334.6 C286.8,334.6 287.2,328.25 291,328.25" fill="none" stroke="#000" stroke-width="0.48"/>
<path d="M283,330.58 C286.8,330.58 287.2,329.7 291,329.7" fill="none" stroke="#000" stroke-width="0.48"/>
<path d="M283,329.08 C286.8,329.08 287.2,331.15 291,331.15" fill="none" stroke="#000" stroke-width="0.48"/>
<path d="M283,326.16 C286.8,326.16 287.2,332.6 291,332.6" fill="none" stroke="#000" stroke-width="0.48"/>
<path d="M283,327.31 C286.8,327.31 287.2,334.05 291,334.05" fill="none" stroke="#000" stroke-width="0.48"/>
<path d="M283,327.17 C286.8,327.17 287.2,335.5 291,335.5" fill="none" stroke="#000" stroke-width="0.48"/>
<path d="M283,329.81 C286.8,329.81 287.2,336.95 291,336.95" fill="none" stroke="#000" stroke-width="0.48"/>
<path d="M283,332.56 C286.8,332.56 287.2,338.4 291,338.4" fill="none" stroke="#000" stroke-width="0.48"/>
<path d="M283,339.35 C286.8,339.35 287.2,339.85 291,339.85" fill="none" stroke="#000" stroke-width="0.48"/>
<path d="M283,344.24 C286.8,344.24 287.2,341.3 291,341.3" fill="none" stroke="#000" stroke-width="0.48"/>
<path d="M283,344.36 C286.8,344.36 287.2,342.75 291,342.75" fill="none" stroke="#000" stroke-width="0.48"/>
<path d="M283,349.41 C286.8,349.41 287.2,344.2 291,344.2" fill="none" stroke="#000" stroke-width="0.48"/>
<path d="M283,350.58 C286.8,350.58 287.2,345.65 291,345.65" fill="none" stroke="#000" stroke-width="0.48"/>
<path d="M283,354.74 C286.8,354.74 287.2,347.1 291,347.1" fill="none" stroke="#000" stroke-width="0.48"/>
<path d="M283,356.46 C286.8,356.46 287.2,348.55 291,348.55" fill="none" stroke="#000" stroke-width="0.48"/>
<path d="M283,350.66 C286.8,350.66 287.2,350 291,350" fill="none" stroke="#000" stroke-width="0.48"/>
<path d="M283,352.4 C286.8,352.4 287.2,351.45 291,351.45" fill="none" stroke="#000" stroke-width="0.48"/>
<path d="M283,348.09 C286.8,348.09 287.2,352.9 291,352.9" fill="none" stroke="#000" stroke-width="0.48"/>
<path d="M283,345.57 C286.8,345.57 287.2,354.35 291,354.35" fill="none" stroke="#000" stroke-width="0.48"/>
<rect x="291.3" y="239.5" width="5.53" height="1" fill="#a0a0a0"/>
<rect x="291.3" y="241.4" width="4.68" height="1" fill="#a0a0a0"/>
<rect x="291.3" y="243.3" width="4.34" height="1" fill="#a0a0a0"/>
<rect x="291.3" y="245.2" width="4.87" height="1" fill="#a0a0a0"/>
<rect x="291.3" y="247.1" width="4.46" height="1" fill="#a0a0a0"/>
<rect x="291.3" y="249" width="4.82" height="1" fill="#a0a0a0"/>
<rect x="291.3" y="250.9" width="4.89" height="1" fill="#a0a0a0"/>
<rect x="291.3" y="252.8" width="4.84" height="1" fill="#a0a0a0"/>
<rect x="291.3" y="254.7" width="5.18" height="1" fill="#a0a0a0"/>
<rect x="291.3" y="256.6" width="4.58" height="1" fill="#a0a0a0"/>
<rect x="291.3" y="258.5" width="4.19" height="1" fill="#a0a0a0"/>
<rect x="291.3" y="260.4" width="4.17" height="1" fill="#a0a0a0"/>
<rect x="291.3" y="262.3" width="4.21" height="1" fill="#a0a0a0"/>
<rect x="291.3" y="264.2" width="5.04" height="1" fill="#a0a0a0"/>
<rect x="291.3" y="266.1" width="4.72" height="1" fill="#a0a0a0"/>
<rect x="291.3" y="268" width="5.62" height="1" fill="#a0a0a0"/>
<rect x="291.3" y="269.9" width="5.01" height="1" fill="#a0a0a0"/>
<rect x="291.3" y="271.8" width="5.42" height="1" fill="#a0a0a0"/>
<rect x="291.3" y="273.7" width="5.96" height="1" fill="#a0a0a0"/>
<rect x="291.3" y="275.6" width="4.13" height="1" fill="#a0a0a0"/>
<rect x="291.3" y="277.5" width="4.03" height="1" fill="#a0a0a0"/>
<rect x="291.3" y="279.4" width="4.28" height="1" fill="#a0a0a0"/>
<rect x="291.3" y="281.3" width="4.77" height="1" fill="#a0a0a0"/>
<rect x="291.3" y="283.2" width="5.15" height="1" fill="#a0a0a0"/>
<rect x="291.3" y="285.1" width="5.49" height="1" fill="#a0a0a0"/>
<rect x="291.3" y="287" width="4.7" height="1" fill="#a0a0a0"/>
<rect x="291.3" y="288.9" width="5.93" height="1" fill="#a0a0a0"/>
<rect x="291.3" y="290.8" width="4.01" height="1" fill="#a0a0a0"/>
<rect x="291.3" y="292.7" width="5.67" height="1" fill="#a0a0a0"/>
<rect x="291.3" y="294.6" width="4.42" height="1" fill="#a0a0a0"/>
<rect x="291.3" y="296.5" width="5.75" height="1" fill="#a0a0a0"/>
<rect x="291.3" y="298.4" width="4.07" height="1" fill="#a0a0a0"/>
<rect x="291.3" y="300.3" width="5.93" height="1" fill="#a0a0a0"/>
<rect x="291.3" y="302.2" width="5.52" height="1" fill="#a0a0a0"/>
<rect x="291.3" y="304.1" width="5.98" height="1" fill="#a0a0a0"/>
<rect x="291.3" y="306" width="5.16" height="1" fill="#a0a0a0"/>
<rect x="291.3" y="307.9" width="4.36" height="1" fill="#a0a0a0"/>
<rect x="291.3" y="309.8" width="5.94" height="1" fill="#a0a0a0"/>
<rect x="291.3" y="311.7" width="4.88" height="1" fill="#a0a0a0"/>
<rect x="291.3" y="313.6" width="4.17" height="1" fill="#a0a0a0"/>
<rect x="291.3" y="315.5" width="5.21" height="1" fill="#a0a0a0"/>
<rect x="291.3" y="317.4" width="4.99" height="1" fill="#a0a0a0"/>
<rect x="291.3" y="319.3" width="4.95" height="1" fill="#a0a0a0"/>
<rect x="291.3" y="321.2" width="4.31" height="1" fill="#a0a0a0"/>
<rect x="291.3" y="323.1" width="4.24" height="1" fill="#a0a0a0"/>
<rect x="291.3" y="325" width="5.16" height="1" fill="#a0a0a0"/>
<rect x="291.3" y="326.9" width="4.91" height="1" fill="#a0a0a0"/>
<rect x="291.3" y="328.8" width="4.25" height="1" fill="#a0a0a0"/>
<rect x="291.3" y="330.7" width="4.88" height="1" fill="#a0a0a0"/>
<rect x="291.3" y="332.6" width="5.45" height="1" fill="#a0a0a0"/>
<rect x="291.3" y="334.5" width="5.43" height="1" fill="#a0a0a0"/>
<rect x="291.3" y="336.4" width="4.94" height="1" fill="#a0a0a0"/>
<rect x="291.3" y="338.3" width="4.79" height="1" fill="#a0a0a0"/>
<rect x="291.3" y="340.2" width="4.72" height="1" fill="#a0a0a0"/>
<rect x="291.3" y="342.1" width="4.45" height="1" fill="#a0a0a0"/>
<rect x="291.3" y="344" width="4.4" height="1" fill="#a0a0a0"/>
<rect x="291.3" y="345.9" width="4.89" height="1" fill="#a0a0a0"/>
<rect x="291.3" y="347.8" width="4.22" height="1" fill="#a0a0a0"/>
<rect x="291.3" y="349.7" width="5.45" height="1" fill="#a0a0a0"/>
<rect x="291.3" y="351.6" width="5.42" height="1" fill="#a0a0a0"/>
<rect x="291.3" y="353.5" width="5.22" height="1" fill="#a0a0a0"/>
<rect x="291.3" y="355.4" width="4.05" height="1" fill="#a0a0a0"/>
<rect x="320.2" y="238.5" width="3" height="10.88" fill="#fff"/>
<rect x="320.2" y="249.38" width="3" height="9.48" fill="#000"/>
<rect x="323.2" y="249.38" width="58.4" height="9.48" fill="#e6e6e6"/>
<rect x="320.2" y="258.87" width="3" height="9.48" fill="#fff"/>
<rect x="320.2" y="268.35" width="3" height="7.39" fill="#000"/>
<rect x="323.2" y="268.35" width="58.4" height="7.39" fill="#e6e6e6"/>
<rect x="320.2" y="275.74" width="3" height="7.89" fill="#fff"/>
<rect x="320.2" y="283.62" width="3" height="7.29" fill="#000"/>
<rect x="323.2" y="283.62" width="58.4" height="7.29" fill="#e6e6e6"/>
<rect x="320.2" y="290.91" width="3" height="7.19" fill="#fff"/>
<rect x="320.2" y="298.1" width="3" height="5.49" fill="#000"/>
<rect x="323.2" y="298.1" width="58.4" height="5.49" fill="#e6e6e6"/>
<rect x="320.2" y="303.59" width="3" height="5.99" fill="#fff"/>
<rect x="320.2" y="309.58" width="3" height="5.59" fill="#000"/>
<rect x="323.2" y="309.58" width="58.4" height="5.59" fill="#e6e6e6"/>
<rect x="320.2" y="315.17" width="3" height="6.29" fill="#fff"/>
<rect x="320.2" y="321.46" width="3" height="5.99" fill="#000"/>
<rect x="323.2" y="321.46" width="58.4" height="5.99" fill="#e6e6e6"/>
<rect x="320.2" y="327.45" width="3" height="5.49" fill="#fff"/>
<rect x="320.2" y="332.94" width="3" height="3.59" fill="#000"/>
<rect x="323.2" y="332.94" width="58.4" height="3.59" fill="#e6e6e6"/>
<rect x="320.2" y="336.54" width="3" height="3.29" fill="#fff"/>
<rect x="320.2" y="339.83" width="3" height="2.99" fill="#000"/>
<rect x="323.2" y="339.83" width="58.4" height="2.99" fill="#e6e6e6"/>
<rect x="320.2" y="342.82" width="3" height="2.8" fill="#fff"/>
<rect x="320.2" y="345.62" width="3" height="2.9" fill="#000"/>
<rect x="323.2" y="345.62" width="58.4" height="2.9" fill="#e6e6e6"/>
<rect x="320.2" y="348.51" width="3" height="2.4" fill="#fff"/>
<rect x="320.2" y="350.91" width="3" height="2.4" fill="#000"/>
<rect x="323.2" y="350.91" width="58.4" height="2.4" fill="#e6e6e6"/>
<rect x="320.2" y="353.31" width="3" height="2.1" fill="#fff"/>
<rect x="320.2" y="355.4" width="3" height="2" fill="#000"/>
<rect x="323.2" y="355.4" width="58.4" height="2" fill="#e6e6e6"/>
<line x1="325.05" y1="243.94" x2="380.6" y2="243.94" stroke="#b4b4b4" stroke-width="0.7" stroke-dasharray="0.7,3.7"/>
<line x1="325.05" y1="254.12" x2="380.6" y2="254.12" stroke="#b4b4b4" stroke-width="0.7" stroke-dasharray="0.7,3.7"/>
<line x1="325.05" y1="263.61" x2="380.6" y2="263.61" stroke="#b4b4b4" stroke-width="0.7" stroke-dasharray="0.7,3.7"/>
<line x1="325.05" y1="272.04" x2="380.6" y2="272.04" stroke="#b4b4b4" stroke-width="0.7" stroke-dasharray="0.7,3.7"/>
<line x1="325.05" y1="279.68" x2="380.6" y2="279.68" stroke="#b4b4b4" stroke-width="0.7" stroke-dasharray="0.7,3.7"/>
<line x1="325.05" y1="287.27" x2="380.6" y2="287.27" stroke="#b4b4b4" stroke-width="0.7" stroke-dasharray="0.7,3.7"/>
<line x1="325.05" y1="294.51" x2="380.6" y2="294.51" stroke="#b4b4b4" stroke-width="0.7" stroke-dasharray="0.7,3.7"/>
<line x1="325.05" y1="300.85" x2="380.6" y2="300.85" stroke="#b4b4b4" stroke-width="0.7" stroke-dasharray="0.7,3.7"/>
<line x1="325.05" y1="306.59" x2="380.6" y2="306.59" stroke="#b4b4b4" stroke-width="0.7" stroke-dasharray="0.7,3.7"/>
<line x1="325.05" y1="312.38" x2="380.6" y2="312.38" stroke="#b4b4b4" stroke-width="0.7" stroke-dasharray="0.7,3.7"/>
<line x1="325.05" y1="318.32" x2="380.6" y2="318.32" stroke="#b4b4b4" stroke-width="0.7" stroke-dasharray="0.7,3.7"/>
<line x1="325.05" y1="324.46" x2="380.6" y2="324.46" stroke="#b4b4b4" stroke-width="0.7" stroke-dasharray="0.7,3.7"/>
<line x1="325.05" y1="330.2" x2="380.6" y2="330.2" stroke="#b4b4b4" stroke-width="0.7" stroke-dasharray="0.7,3.7"/>
<line x1="325.05" y1="334.74" x2="380.6" y2="334.74" stroke="#b4b4b4" stroke-width="0.7" stroke-dasharray="0.7,3.7"/>
<line x1="325.05" y1="338.18" x2="380.6" y2="338.18" stroke="#b4b4b4" stroke-width="0.7" stroke-dasharray="0.7,3.7"/>
<line x1="325.05" y1="341.33" x2="380.6" y2="341.33" stroke="#b4b4b4" stroke-width="0.7" stroke-dasharray="0.7,3.7"/>
<line x1="325.05" y1="344.22" x2="380.6" y2="344.22" stroke="#b4b4b4" stroke-width="0.7" stroke-dasharray="0.7,3.7"/>
<line x1="325.05" y1="347.07" x2="380.6" y2="347.07" stroke="#b4b4b4" stroke-width="0.7" stroke-dasharray="0.7,3.7"/>
<line x1="325.05" y1="349.71" x2="380.6" y2="349.71" stroke="#b4b4b4" stroke-width="0.7" stroke-dasharray="0.7,3.7"/>
<line x1="325.05" y1="352.11" x2="380.6" y2="352.11" stroke="#b4b4b4" stroke-width="0.7" stroke-dasharray="0.7,3.7"/>
<line x1="325.05" y1="354.36" x2="380.6" y2="354.36" stroke="#b4b4b4" stroke-width="0.7" stroke-dasharray="0.7,3.7"/>
<line x1="325.05" y1="356.4" x2="380.6" y2="356.4" stroke="#b4b4b4" stroke-width="0.7" stroke-dasharray="0.7,3.7"/>
<line x1="343.2" y1="238.5" x2="343.2" y2="357.4" stroke="#6fb36f" stroke-width="0.45"/>
<rect x="323.2" y="238.75" width="10.8" height="0.9" fill="#1616c4"/>
<rect x="323.2" y="241.3" width="13.8" height="1" fill="#3434de"/>
<rect x="323.2" y="241.5" width="38.2" height="0.6" fill="#7272ec"/>
<rect x="323.2" y="243.5" width="13.8" height="0.8" fill="#7272ec"/>
<rect x="323.2" y="247" width="7.6" height="0.8" fill="#3434de"/>
<rect x="323.2" y="249.6" width="13.8" height="0.8" fill="#7272ec"/>
<rect x="323.2" y="252.1" width="13.8" height="1" fill="#3434de"/>
<rect x="323.2" y="254" width="13.8" height="0.8" fill="#3434de"/>
<rect x="323.2" y="256.6" width="35.6" height="0.8" fill="#7272ec"/>
<rect x="323.2" y="256.6" width="13.8" height="0.8" fill="#3434de"/>
<rect x="323.2" y="261.8" width="13.8" height="1" fill="#3434de"/>
<rect x="323.2" y="263.6" width="13.8" height="0.8" fill="#7272ec"/>
<rect x="323.2" y="266.7" width="13.8" height="1" fill="#1616c4"/>
<rect x="323.2" y="268.9" width="13.8" height="0.8" fill="#3434de"/>
<rect x="323.2" y="270.6" width="13.8" height="0.8" fill="#3434de"/>
<rect x="323.2" y="273.2" width="13.8" height="0.8" fill="#3434de"/>
<rect x="323.2" y="275.6" width="13.8" height="0.8" fill="#3434de"/>
<rect x="323.2" y="277.9" width="13.8" height="1.4" fill="#3434de"/>
<rect x="323.2" y="280.6" width="13.8" height="0.8" fill="#7272ec"/>
<rect x="323.2" y="282.6" width="13.8" height="0.8" fill="#3434de"/>
<rect x="323.2" y="284.6" width="19.8" height="0.8" fill="#7272ec"/>
<rect x="323.2" y="289.8" width="13.8" height="2" fill="#6a6ae8"/>
<rect x="323.2" y="293.1" width="13.8" height="2.2" fill="#2a2ae8"/>
<rect x="323.2" y="295.05" width="45.2" height="0.9" fill="#5050e0"/>
<rect x="323.2" y="296.8" width="13.8" height="0.8" fill="#3434de"/>
<rect x="323.2" y="299.3" width="13.8" height="1.4" fill="#3434de"/>
<rect x="323.2" y="302.6" width="13.8" height="0.8" fill="#3434de"/>
<rect x="323.2" y="305.55" width="25.8" height="0.9" fill="#3434de"/>
<rect x="323.2" y="308.3" width="13.8" height="1.4" fill="#7272ec"/>
<rect x="323.2" y="311.3" width="13.8" height="1.4" fill="#7272ec"/>
<rect x="323.2" y="315.3" width="13.8" height="1.4" fill="#3434de"/>
<rect x="323.2" y="319.3" width="13.8" height="1.4" fill="#3434de"/>
<rect x="323.2" y="321.6" width="13.8" height="1.4" fill="#1616c4"/>
<rect x="323.2" y="321.95" width="44.8" height="0.7" fill="#7272ec"/>
<rect x="323.2" y="324.3" width="13.8" height="1.4" fill="#3434de"/>
<rect x="323.2" y="326.6" width="13.8" height="0.8" fill="#7272ec"/>
<rect x="323.2" y="330.6" width="13.8" height="0.8" fill="#3434de"/>
<rect x="323.2" y="332.6" width="13.8" height="0.8" fill="#7272ec"/>
<rect x="323.2" y="336.6" width="13.8" height="0.8" fill="#7272ec"/>
<rect x="323.2" y="339.1" width="6.8" height="0.8" fill="#3434de"/>
<rect x="323.2" y="341.5" width="13.8" height="1" fill="#3434de"/>
<rect x="323.2" y="341.7" width="23.8" height="0.6" fill="#7272ec"/>
<rect x="323.2" y="343.5" width="13.8" height="1" fill="#1616c4"/>
<rect x="323.2" y="345.6" width="13.8" height="0.8" fill="#7272ec"/>
<rect x="323.2" y="348.55" width="13.8" height="0.9" fill="#3434de"/>
<rect x="323.2" y="350.8" width="13.8" height="1.4" fill="#3434de"/>
<rect x="323.2" y="353.5" width="13.8" height="1" fill="#3434de"/>
<rect x="323.2" y="355.6" width="13.8" height="0.8" fill="#7272ec"/>
<rect x="323.2" y="238.5" width="58.4" height="118.9" fill="none" stroke="#444" stroke-width="0.45"/>
<rect x="320.2" y="238.5" width="3" height="118.9" fill="none" stroke="#444" stroke-width="0.35"/>
<text x="310.3" y="244.84" font-family="Liberation Sans, sans-serif" font-size="2.6" fill="#888" text-anchor="middle" font-weight="normal" font-style="normal" stroke="#888" stroke-width="0">1</text>
<text x="316.5" y="255.02" font-family="Liberation Sans, sans-serif" font-size="2.6" fill="#888" text-anchor="middle" font-weight="normal" font-style="normal" stroke="#888" stroke-width="0">2</text>
<text x="310.3" y="264.51" font-family="Liberation Sans, sans-serif" font-size="2.6" fill="#888" text-anchor="middle" font-weight="normal" font-style="normal" stroke="#888" stroke-width="0">3</text>
<text x="316.5" y="272.94" font-family="Liberation Sans, sans-serif" font-size="2.6" fill="#888" text-anchor="middle" font-weight="normal" font-style="normal" stroke="#888" stroke-width="0">4</text>
<text x="310.3" y="280.58" font-family="Liberation Sans, sans-serif" font-size="2.6" fill="#888" text-anchor="middle" font-weight="normal" font-style="normal" stroke="#888" stroke-width="0">5</text>
<text x="316.5" y="288.17" font-family="Liberation Sans, sans-serif" font-size="2.6" fill="#888" text-anchor="middle" font-weight="normal" font-style="normal" stroke="#888" stroke-width="0">6</text>
<text x="310.3" y="295.41" font-family="Liberation Sans, sans-serif" font-size="2.6" fill="#888" text-anchor="middle" font-weight="normal" font-style="normal" stroke="#888" stroke-width="0">7</text>
<text x="316.5" y="301.75" font-family="Liberation Sans, sans-serif" font-size="2.6" fill="#888" text-anchor="middle" font-weight="normal" font-style="normal" stroke="#888" stroke-width="0">8</text>
<text x="310.3" y="307.49" font-family="Liberation Sans, sans-serif" font-size="2.6" fill="#888" text-anchor="middle" font-weight="normal" font-style="normal" stroke="#888" stroke-width="0">9</text>
<text x="316.5" y="313.28" font-family="Liberation Sans, sans-serif" font-size="2.6" fill="#888" text-anchor="middle" font-weight="normal" font-style="normal" stroke="#888" stroke-width="0">10</text>
<text x="310.3" y="319.22" font-family="Liberation Sans, sans-serif" font-size="2.6" fill="#888" text-anchor="middle" font-weight="normal" font-style="normal" stroke="#888" stroke-width="0">11</text>
<text x="316.5" y="325.36" font-family="Liberation Sans, sans-serif" font-size="2.6" fill="#888" text-anchor="middle" font-weight="normal" font-style="normal" stroke="#888" stroke-width="0">12</text>
<text x="310.3" y="331.1" font-family="Liberation Sans, sans-serif" font-size="2.6" fill="#888" text-anchor="middle" font-weight="normal" font-style="normal" stroke="#888" stroke-width="0">13</text>
<text x="316.5" y="335.64" font-family="Liberation Sans, sans-serif" font-size="2.6" fill="#888" text-anchor="middle" font-weight="normal" font-style="normal" stroke="#888" stroke-width="0">14</text>
<text x="310.3" y="339.08" font-family="Liberation Sans, sans-serif" font-size="2.6" fill="#888" text-anchor="middle" font-weight="normal" font-style="normal" stroke="#888" stroke-width="0">15</text>
<text x="316.5" y="342.23" font-family="Liberation Sans, sans-serif" font-size="2.6" fill="#888" text-anchor="middle" font-weight="normal" font-style="normal" stroke="#888" stroke-width="0">16</text>
<text x="310.3" y="345.12" font-family="Liberation Sans, sans-serif" font-size="2.6" fill="#888" text-anchor="middle" font-weight="normal" font-style="normal" stroke="#888" stroke-width="0">17</text>
<text x="316.5" y="347.97" font-family="Liberation Sans, sans-serif" font-size="2.6" fill="#888" text-anchor="middle" font-weight="normal" font-style="normal" stroke="#888" stroke-width="0">18</text>
<text x="310.3" y="350.61" font-family="Liberation Sans, sans-serif" font-size="2.6" fill="#888" text-anchor="middle" font-weight="normal" font-style="normal" stroke="#888" stroke-width="0">19</text>
<text x="316.5" y="353.01" font-family="Liberation Sans, sans-serif" font-size="2.6" fill="#888" text-anchor="middle" font-weight="normal" font-style="normal" stroke="#888" stroke-width="0">20</text>
<text x="310.3" y="355.26" font-family="Liberation Sans, sans-serif" font-size="2.6" fill="#888" text-anchor="middle" font-weight="normal" font-style="normal" stroke="#888" stroke-width="0">21</text>
<text x="316.5" y="357.3" font-family="Liberation Sans, sans-serif" font-size="2.6" fill="#888" text-anchor="middle" font-weight="normal" font-style="normal" stroke="#888" stroke-width="0">22</text>
<text x="343.2" y="238.5" font-family="Liberation Sans, sans-serif" font-size="2.8" fill="#444" text-anchor="middle" font-weight="normal" font-style="normal" stroke="#444" stroke-width="0.12">0.00</text>
<text x="372.5" y="238.5" font-family="Liberation Sans, sans-serif" font-size="2.8" fill="#444" text-anchor="middle" font-weight="normal" font-style="normal" stroke="#444" stroke-width="0.12">0.1</text>
<text x="379.5" y="238.5" font-family="Liberation Sans, sans-serif" font-size="2.8" fill="#444" text-anchor="middle" font-weight="normal" font-style="normal" stroke="#444" stroke-width="0.12">0.2</text>
<text x="343.5" y="360.6" font-family="Liberation Sans, sans-serif" font-size="2.6" fill="#444" text-anchor="middle" font-weight="normal" font-style="normal" stroke="#444" stroke-width="0.12">0.25</text>
<text x="353" y="360.6" font-family="Liberation Sans, sans-serif" font-size="2.6" fill="#444" text-anchor="middle" font-weight="normal" font-style="normal" stroke="#444" stroke-width="0.12">1e</text>
<text x="369" y="360.6" font-family="Liberation Sans, sans-serif" font-size="2.6" fill="#444" text-anchor="middle" font-weight="normal" font-style="normal" stroke="#444" stroke-width="0.12">1e</text>
<text x="383" y="360.6" font-family="Liberation Sans, sans-serif" font-size="2.6" fill="#444" text-anchor="middle" font-weight="normal" font-style="normal" stroke="#444" stroke-width="0.12">1e</text>
<polyline points="381.6,241.8 383.5,241.8 386,242.3 387.5,242.3" fill="none" stroke="#222" stroke-width="0.35"/>
<text x="387.8" y="243.2" font-family="Liberation Sans, sans-serif" font-size="2.8" fill="#666" text-anchor="start" font-weight="normal" font-style="normal" stroke="#666" stroke-width="0.02">11p12.3</text>
<polyline points="381.6,257 383.5,257 386,257.6 387.5,257.6" fill="none" stroke="#222" stroke-width="0.35"/>
<text x="387.8" y="258.5" font-family="Liberation Sans, sans-serif" font-size="2.8" fill="#666" text-anchor="start" font-weight="normal" font-style="normal" stroke="#666" stroke-width="0.02">11p12.3</text>
<polyline points="381.6,293.5 383.5,293.5 386,289.5 387.5,289.5" fill="none" stroke="#222" stroke-width="0.35"/>
<text x="387.8" y="290.4" font-family="Liberation Sans, sans-serif" font-size="2.8" fill="#666" text-anchor="start" font-weight="normal" font-style="normal" stroke="#666" stroke-width="0.02">11p12.3</text>
<polyline points="381.6,294.2 383.5,294.2 386,292.5 387.5,292.5" fill="none" stroke="#222" stroke-width="0.35"/>
<text x="387.8" y="293.4" font-family="Liberation Sans, sans-serif" font-size="2.8" fill="#666" text-anchor="start" font-weight="normal" font-style="normal" stroke="#666" stroke-width="0.02">11p12.3</text>
<polyline points="381.6,295.5 383.5,295.5 386,295.5 387.5,295.5" fill="none" stroke="#222" stroke-width="0.35"/>
<text x="387.8" y="296.4" font-family="Liberation Sans, sans-serif" font-size="2.8" fill="#666" text-anchor="start" font-weight="normal" font-style="normal" stroke="#666" stroke-width="0.02">11p12.3</text>
<polyline points="381.6,297.2 383.5,297.2 386,298.5 387.5,298.5" fill="none" stroke="#222" stroke-width="0.35"/>
<text x="387.8" y="299.4" font-family="Liberation Sans, sans-serif" font-size="2.8" fill="#666" text-anchor="start" font-weight="normal" font-style="normal" stroke="#666" stroke-width="0.02">11p12.3</text>
<polyline points="381.6,306 383.5,306 386,305.7 387.5,305.7" fill="none" stroke="#222" stroke-width="0.35"/>
<text x="387.8" y="306.6" font-family="Liberation Sans, sans-serif" font-size="2.8" fill="#666" text-anchor="start" font-weight="normal" font-style="normal" stroke="#666" stroke-width="0.02">11p12.3</text>
<polyline points="381.6,322.3 383.5,322.3 386,320 387.5,320" fill="none" stroke="#222" stroke-width="0.35"/>
<text x="387.8" y="320.9" font-family="Liberation Sans, sans-serif" font-size="2.8" fill="#666" text-anchor="start" font-weight="normal" font-style="normal" stroke="#666" stroke-width="0.02">11p12.3</text>
<polyline points="381.6,323 383.5,323 386,324 387.5,324" fill="none" stroke="#222" stroke-width="0.35"/>
<text x="387.8" y="324.9" font-family="Liberation Sans, sans-serif" font-size="2.8" fill="#666" text-anchor="start" font-weight="normal" font-style="normal" stroke="#666" stroke-width="0.02">11p12.3</text>
<polyline points="381.6,339.5 383.5,339.5 386,334.5 387.5,334.5" fill="none" stroke="#222" stroke-width="0.35"/>
<text x="387.8" y="335.4" font-family="Liberation Sans, sans-serif" font-size="2.8" fill="#666" text-anchor="start" font-weight="normal" font-style="normal" stroke="#666" stroke-width="0.02">11p12.3</text>
<polyline points="381.6,342 383.5,342 386,337.5 387.5,337.5" fill="none" stroke="#222" stroke-width="0.35"/>
<text x="387.8" y="338.4" font-family="Liberation Sans, sans-serif" font-size="2.8" fill="#666" text-anchor="start" font-weight="normal" font-style="normal" stroke="#666" stroke-width="0.02">11p12.3</text>
<polyline points="381.6,344 383.5,344 386,340.5 387.5,340.5" fill="none" stroke="#222" stroke-width="0.35"/>
<text x="387.8" y="341.4" font-family="Liberation Sans, sans-serif" font-size="2.8" fill="#666" text-anchor="start" font-weight="normal" font-style="normal" stroke="#666" stroke-width="0.02">11p12.3</text>
<polyline points="381.6,346 383.5,346 386,343.5 387.5,343.5" fill="none" stroke="#222" stroke-width="0.35"/>
<text x="387.8" y="344.4" font-family="Liberation Sans, sans-serif" font-size="2.8" fill="#666" text-anchor="start" font-weight="normal" font-style="normal" stroke="#666" stroke-width="0.02">11p12.3</text>
</svg>
</body></html>
